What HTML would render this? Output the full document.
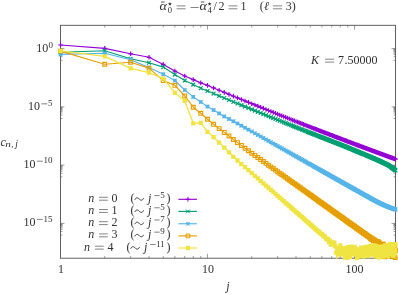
<!DOCTYPE html>
<html><head><meta charset="utf-8"><title>c_n,j</title>
<style>html,body{margin:0;padding:0;background:#fff;}svg{display:block;will-change:transform;}</style>
</head><body>
<svg width="398" height="295" viewBox="0 0 398 295">
<rect width="398" height="295" fill="#fff"/>
<defs><clipPath id="cp"><rect x="60.5" y="25.3" width="335.0" height="233.40"/></clipPath></defs>
<path d="M104.75 258.2v-2.2M104.75 25.3v2.2M130.64 258.2v-2.2M130.64 25.3v2.2M149.00 258.2v-2.2M149.00 25.3v2.2M163.25 258.2v-2.2M163.25 25.3v2.2M174.89 258.2v-2.2M174.89 25.3v2.2M184.73 258.2v-2.2M184.73 25.3v2.2M193.25 258.2v-2.2M193.25 25.3v2.2M200.77 258.2v-2.2M200.77 25.3v2.2M207.50 258.2v-4.4M207.50 25.3v4.4M251.75 258.2v-2.2M251.75 25.3v2.2M277.64 258.2v-2.2M277.64 25.3v2.2M296.00 258.2v-2.2M296.00 25.3v2.2M310.25 258.2v-2.2M310.25 25.3v2.2M321.89 258.2v-2.2M321.89 25.3v2.2M331.73 258.2v-2.2M331.73 25.3v2.2M340.25 258.2v-2.2M340.25 25.3v2.2M347.77 258.2v-2.2M347.77 25.3v2.2M354.50 258.2v-4.4M354.50 25.3v4.4M60.5 48.60h4M395.5 48.60h-4M60.5 60.25h2M395.5 60.25h-2M60.5 56.75h2M395.5 56.75h-2M60.5 54.69h2M395.5 54.69h-2M60.5 53.24h2M395.5 53.24h-2M60.5 52.11h2M395.5 52.11h-2M60.5 51.19h2M395.5 51.19h-2M60.5 50.41h2M395.5 50.41h-2M60.5 49.73h2M395.5 49.73h-2M60.5 49.13h2M395.5 49.13h-2M60.5 106.87h4M395.5 106.87h-4M60.5 118.52h2M395.5 118.52h-2M60.5 115.02h2M395.5 115.02h-2M60.5 112.96h2M395.5 112.96h-2M60.5 111.51h2M395.5 111.51h-2M60.5 110.38h2M395.5 110.38h-2M60.5 109.46h2M395.5 109.46h-2M60.5 108.68h2M395.5 108.68h-2M60.5 108.00h2M395.5 108.00h-2M60.5 107.40h2M395.5 107.40h-2M60.5 165.14h4M395.5 165.14h-4M60.5 176.79h2M395.5 176.79h-2M60.5 173.29h2M395.5 173.29h-2M60.5 171.23h2M395.5 171.23h-2M60.5 169.78h2M395.5 169.78h-2M60.5 168.65h2M395.5 168.65h-2M60.5 167.73h2M395.5 167.73h-2M60.5 166.95h2M395.5 166.95h-2M60.5 166.27h2M395.5 166.27h-2M60.5 165.67h2M395.5 165.67h-2M60.5 223.41h4M395.5 223.41h-4M60.5 235.06h2M395.5 235.06h-2M60.5 231.56h2M395.5 231.56h-2M60.5 229.50h2M395.5 229.50h-2M60.5 228.05h2M395.5 228.05h-2M60.5 226.92h2M395.5 226.92h-2M60.5 226.00h2M395.5 226.00h-2M60.5 225.22h2M395.5 225.22h-2M60.5 224.54h2M395.5 224.54h-2M60.5 223.94h2M395.5 223.94h-2" stroke="#505050" stroke-width="0.55" fill="none"/>
<rect x="60.5" y="25.3" width="335.0" height="232.90" fill="none" stroke="#505050" stroke-width="0.9"/>
<path d="M60.50 45.00L104.75 48.40L130.64 53.80L149.00 57.30L163.25 64.40L174.89 71.10L184.73 76.00L193.25 79.60L200.77 82.90L207.50 85.40L213.58 87.95L219.14 90.27L224.25 92.39L228.98 94.35L233.39 96.17L237.51 97.87L241.38 99.46L245.03 100.95L248.48 102.36L251.75 103.70L254.87 104.97L257.84 106.17L260.67 107.32L263.39 108.42L266.00 109.47L268.50 110.48L270.91 111.44L273.23 112.38L275.47 113.27L277.64 114.14L279.73 114.97L281.76 115.78L283.72 116.56L285.63 117.32L287.48 118.06L289.28 118.77L291.03 119.46L292.73 120.13L294.39 120.79L296.00 121.43L297.58 122.05L299.12 122.65L300.62 123.24L302.09 123.82L303.52 124.38L304.93 124.93L306.30 125.47L307.64 125.99L308.96 126.51L310.25 127.01L311.51 127.50L312.75 127.99L313.97 128.46L315.16 128.92L316.33 129.38L317.48 129.82L318.61 130.26L319.72 130.69L320.82 131.11L321.89 131.53L322.94 131.94L323.98 132.34L325.00 132.73L326.01 133.12L327.00 133.50L327.97 133.88L328.93 134.24L329.88 134.61L330.81 134.97L331.73 135.32L332.63 135.67L333.53 136.01L334.41 136.35L335.28 136.68L336.13 137.01L336.98 137.33L337.81 137.65L338.64 137.96L339.45 138.27L340.25 138.58L341.05 138.88L341.83 139.18L342.60 139.47L343.37 139.76L344.12 140.05L344.87 140.34L345.61 140.62L346.34 140.89L347.06 141.17L347.77 141.44L348.48 141.70L349.18 141.97L349.87 142.23L350.55 142.49L351.23 142.74L351.89 143.00L352.56 143.25L353.21 143.49L353.86 143.74L354.50 143.98L355.14 144.22L355.76 144.46L356.39 144.69L357.00 144.92L357.61 145.15L358.22 145.38L358.82 145.60L359.41 145.83L360.00 146.05L360.58 146.27L361.16 146.48L361.74 146.70L362.30 146.91L362.87 147.12L363.42 147.33L363.98 147.54L364.52 147.74L365.07 147.95L365.61 148.15L366.14 148.35L366.67 148.55L367.19 148.74L367.72 148.94L368.23 149.13L368.75 149.32L369.25 149.51L369.76 149.70L370.26 149.88L370.76 150.07L371.25 150.25L371.74 150.43L372.22 150.62L372.71 150.79L373.18 150.97L373.66 151.15L374.13 151.32L374.60 151.50L375.06 151.67L375.52 151.84L375.98 152.01L376.44 152.18L376.89 152.35L377.33 152.51L377.78 152.68L378.22 152.84L378.66 153.00L379.10 153.16L379.53 153.32L379.96 153.48L380.39 153.64L380.81 153.80L381.23 153.95L381.65 154.11L382.07 154.26L382.48 154.41L382.89 154.56L383.30 154.71L383.70 154.86L384.11 155.01L384.51 155.16L384.90 155.31L385.30 155.45L385.69 155.60L386.08 155.74L386.47 155.88L386.86 156.02L387.24 156.16L387.62 156.30L388.00 156.44L388.38 156.58L388.75 156.72L389.12 156.86L389.49 156.99L389.86 157.13L390.23 157.26L390.59 157.39L390.95 157.53L391.31 157.66L391.67 157.79L392.03 157.92L392.38 158.05L392.73 158.18L393.08 158.31L393.43 158.43L393.77 158.56L394.12 158.69L394.46 158.81L394.80 158.93L395.14 159.06L395.48 159.18" stroke="#9400D3" stroke-width="1.15" fill="none" stroke-linejoin="round" clip-path="url(#cp)"/>
<path d="M58.20 45.00h4.60M60.50 42.70v4.60M102.45 48.40h4.60M104.75 46.10v4.60M128.34 53.80h4.60M130.64 51.50v4.60M146.70 57.30h4.60M149.00 55.00v4.60M160.95 64.40h4.60M163.25 62.10v4.60M172.59 71.10h4.60M174.89 68.80v4.60M182.43 76.00h4.60M184.73 73.70v4.60M190.95 79.60h4.60M193.25 77.30v4.60M198.47 82.90h4.60M200.77 80.60v4.60M205.20 85.40h4.60M207.50 83.10v4.60M211.28 87.95h4.60M213.58 85.65v4.60M216.84 90.27h4.60M219.14 87.97v4.60M221.95 92.39h4.60M224.25 90.09v4.60M226.68 94.35h4.60M228.98 92.05v4.60M231.09 96.17h4.60M233.39 93.87v4.60M235.21 97.87h4.60M237.51 95.57v4.60M239.08 99.46h4.60M241.38 97.16v4.60M242.73 100.95h4.60M245.03 98.65v4.60M246.18 102.36h4.60M248.48 100.06v4.60M249.45 103.70h4.60M251.75 101.40v4.60M252.57 104.97h4.60M254.87 102.67v4.60M255.54 106.17h4.60M257.84 103.87v4.60M258.37 107.32h4.60M260.67 105.02v4.60M261.09 108.42h4.60M263.39 106.12v4.60M263.70 109.47h4.60M266.00 107.17v4.60M266.20 110.48h4.60M268.50 108.18v4.60M268.61 111.44h4.60M270.91 109.14v4.60M270.93 112.38h4.60M273.23 110.08v4.60M273.17 113.27h4.60M275.47 110.97v4.60M275.34 114.14h4.60M277.64 111.84v4.60M277.43 114.97h4.60M279.73 112.67v4.60M279.46 115.78h4.60M281.76 113.48v4.60M281.42 116.56h4.60M283.72 114.26v4.60M283.33 117.32h4.60M285.63 115.02v4.60M285.18 118.06h4.60M287.48 115.76v4.60M286.98 118.77h4.60M289.28 116.47v4.60M288.73 119.46h4.60M291.03 117.16v4.60M290.43 120.13h4.60M292.73 117.83v4.60M292.09 120.79h4.60M294.39 118.49v4.60M293.70 121.43h4.60M296.00 119.13v4.60M295.28 122.05h4.60M297.58 119.75v4.60M296.82 122.65h4.60M299.12 120.35v4.60M298.32 123.24h4.60M300.62 120.94v4.60M299.79 123.82h4.60M302.09 121.52v4.60M301.22 124.38h4.60M303.52 122.08v4.60M302.63 124.93h4.60M304.93 122.63v4.60M304.00 125.47h4.60M306.30 123.17v4.60M305.34 125.99h4.60M307.64 123.69v4.60M306.66 126.51h4.60M308.96 124.21v4.60M307.95 127.01h4.60M310.25 124.71v4.60M309.21 127.50h4.60M311.51 125.20v4.60M310.45 127.99h4.60M312.75 125.69v4.60M311.67 128.46h4.60M313.97 126.16v4.60M312.86 128.92h4.60M315.16 126.62v4.60M314.03 129.38h4.60M316.33 127.08v4.60M315.18 129.82h4.60M317.48 127.52v4.60M316.31 130.26h4.60M318.61 127.96v4.60M317.42 130.69h4.60M319.72 128.39v4.60M318.52 131.11h4.60M320.82 128.81v4.60M319.59 131.53h4.60M321.89 129.23v4.60M320.64 131.94h4.60M322.94 129.64v4.60M321.68 132.34h4.60M323.98 130.04v4.60M322.70 132.73h4.60M325.00 130.43v4.60M323.71 133.12h4.60M326.01 130.82v4.60M324.70 133.50h4.60M327.00 131.20v4.60M325.67 133.88h4.60M327.97 131.58v4.60M326.63 134.24h4.60M328.93 131.94v4.60M327.58 134.61h4.60M329.88 132.31v4.60M328.51 134.97h4.60M330.81 132.67v4.60M329.43 135.32h4.60M331.73 133.02v4.60M330.33 135.67h4.60M332.63 133.37v4.60M331.23 136.01h4.60M333.53 133.71v4.60M332.11 136.35h4.60M334.41 134.05v4.60M332.98 136.68h4.60M335.28 134.38v4.60M333.83 137.01h4.60M336.13 134.71v4.60M334.68 137.33h4.60M336.98 135.03v4.60M335.51 137.65h4.60M337.81 135.35v4.60M336.34 137.96h4.60M338.64 135.66v4.60M337.15 138.27h4.60M339.45 135.97v4.60M337.95 138.58h4.60M340.25 136.28v4.60M338.75 138.88h4.60M341.05 136.58v4.60M339.53 139.18h4.60M341.83 136.88v4.60M340.30 139.47h4.60M342.60 137.17v4.60M341.07 139.76h4.60M343.37 137.46v4.60M341.82 140.05h4.60M344.12 137.75v4.60M342.57 140.34h4.60M344.87 138.04v4.60M343.31 140.62h4.60M345.61 138.32v4.60M344.04 140.89h4.60M346.34 138.59v4.60M344.76 141.17h4.60M347.06 138.87v4.60M345.47 141.44h4.60M347.77 139.14v4.60M346.18 141.70h4.60M348.48 139.40v4.60M346.88 141.97h4.60M349.18 139.67v4.60M347.57 142.23h4.60M349.87 139.93v4.60M348.25 142.49h4.60M350.55 140.19v4.60M348.93 142.74h4.60M351.23 140.44v4.60M349.59 143.00h4.60M351.89 140.70v4.60M350.26 143.25h4.60M352.56 140.95v4.60M350.91 143.49h4.60M353.21 141.19v4.60M351.56 143.74h4.60M353.86 141.44v4.60M352.20 143.98h4.60M354.50 141.68v4.60M352.84 144.22h4.60M355.14 141.92v4.60M353.46 144.46h4.60M355.76 142.16v4.60M354.09 144.69h4.60M356.39 142.39v4.60M354.70 144.92h4.60M357.00 142.62v4.60M355.31 145.15h4.60M357.61 142.85v4.60M355.92 145.38h4.60M358.22 143.08v4.60M356.52 145.60h4.60M358.82 143.30v4.60M357.11 145.83h4.60M359.41 143.53v4.60M357.70 146.05h4.60M360.00 143.75v4.60M358.28 146.27h4.60M360.58 143.97v4.60M358.86 146.48h4.60M361.16 144.18v4.60M359.44 146.70h4.60M361.74 144.40v4.60M360.00 146.91h4.60M362.30 144.61v4.60M360.57 147.12h4.60M362.87 144.82v4.60M361.12 147.33h4.60M363.42 145.03v4.60M361.68 147.54h4.60M363.98 145.24v4.60M362.22 147.74h4.60M364.52 145.44v4.60M362.77 147.95h4.60M365.07 145.65v4.60M363.31 148.15h4.60M365.61 145.85v4.60M363.84 148.35h4.60M366.14 146.05v4.60M364.37 148.55h4.60M366.67 146.25v4.60M364.89 148.74h4.60M367.19 146.44v4.60M365.42 148.94h4.60M367.72 146.64v4.60M365.93 149.13h4.60M368.23 146.83v4.60M366.45 149.32h4.60M368.75 147.02v4.60M366.95 149.51h4.60M369.25 147.21v4.60M367.46 149.70h4.60M369.76 147.40v4.60M367.96 149.88h4.60M370.26 147.58v4.60M368.46 150.07h4.60M370.76 147.77v4.60M368.95 150.25h4.60M371.25 147.95v4.60M369.44 150.43h4.60M371.74 148.13v4.60M369.92 150.62h4.60M372.22 148.32v4.60M370.41 150.79h4.60M372.71 148.49v4.60M370.88 150.97h4.60M373.18 148.67v4.60M371.36 151.15h4.60M373.66 148.85v4.60M371.83 151.32h4.60M374.13 149.02v4.60M372.30 151.50h4.60M374.60 149.20v4.60M372.76 151.67h4.60M375.06 149.37v4.60M373.22 151.84h4.60M375.52 149.54v4.60M373.68 152.01h4.60M375.98 149.71v4.60M374.14 152.18h4.60M376.44 149.88v4.60M374.59 152.35h4.60M376.89 150.05v4.60M375.03 152.51h4.60M377.33 150.21v4.60M375.48 152.68h4.60M377.78 150.38v4.60M375.92 152.84h4.60M378.22 150.54v4.60M376.36 153.00h4.60M378.66 150.70v4.60M376.80 153.16h4.60M379.10 150.86v4.60M377.23 153.32h4.60M379.53 151.02v4.60M377.66 153.48h4.60M379.96 151.18v4.60M378.09 153.64h4.60M380.39 151.34v4.60M378.51 153.80h4.60M380.81 151.50v4.60M378.93 153.95h4.60M381.23 151.65v4.60M379.35 154.11h4.60M381.65 151.81v4.60M379.77 154.26h4.60M382.07 151.96v4.60M380.18 154.41h4.60M382.48 152.11v4.60M380.59 154.56h4.60M382.89 152.26v4.60M381.00 154.71h4.60M383.30 152.41v4.60M381.40 154.86h4.60M383.70 152.56v4.60M381.81 155.01h4.60M384.11 152.71v4.60M382.21 155.16h4.60M384.51 152.86v4.60M382.60 155.31h4.60M384.90 153.01v4.60M383.00 155.45h4.60M385.30 153.15v4.60M383.39 155.60h4.60M385.69 153.30v4.60M383.78 155.74h4.60M386.08 153.44v4.60M384.17 155.88h4.60M386.47 153.58v4.60M384.56 156.02h4.60M386.86 153.72v4.60M384.94 156.16h4.60M387.24 153.86v4.60M385.32 156.30h4.60M387.62 154.00v4.60M385.70 156.44h4.60M388.00 154.14v4.60M386.08 156.58h4.60M388.38 154.28v4.60M386.45 156.72h4.60M388.75 154.42v4.60M386.82 156.86h4.60M389.12 154.56v4.60M387.19 156.99h4.60M389.49 154.69v4.60M387.56 157.13h4.60M389.86 154.83v4.60M387.93 157.26h4.60M390.23 154.96v4.60M388.29 157.39h4.60M390.59 155.09v4.60M388.65 157.53h4.60M390.95 155.23v4.60M389.01 157.66h4.60M391.31 155.36v4.60M389.37 157.79h4.60M391.67 155.49v4.60M389.73 157.92h4.60M392.03 155.62v4.60M390.08 158.05h4.60M392.38 155.75v4.60M390.43 158.18h4.60M392.73 155.88v4.60M390.78 158.31h4.60M393.08 156.01v4.60M391.13 158.43h4.60M393.43 156.13v4.60M391.47 158.56h4.60M393.77 156.26v4.60M391.82 158.69h4.60M394.12 156.39v4.60M392.16 158.81h4.60M394.46 156.51v4.60M392.50 158.93h4.60M394.80 156.63v4.60M392.84 159.06h4.60M395.14 156.76v4.60M393.18 159.18h4.60M395.48 156.88v4.60" stroke="#9400D3" stroke-width="1.2" fill="none"/>
<path d="M60.50 52.30L104.75 50.80L130.64 58.70L149.00 62.80L163.25 67.10L174.89 74.60L184.73 80.50L193.25 84.60L200.77 88.20L207.50 91.00L213.58 93.56L219.14 95.89L224.25 98.03L228.98 100.00L233.39 101.83L237.51 103.54L241.38 105.13L245.03 106.64L248.48 108.05L251.75 109.39L254.87 110.67L257.84 111.88L260.67 113.03L263.39 114.14L266.00 115.19L268.50 116.21L270.91 117.18L273.23 118.12L275.47 119.02L277.64 119.89L279.73 120.73L281.76 121.54L283.72 122.33L285.63 123.09L287.48 123.83L289.28 124.54L291.03 125.24L292.73 125.92L294.39 126.58L296.00 127.22L297.58 127.84L299.12 128.45L300.62 129.04L302.09 129.63L303.52 130.20L304.93 130.75L306.30 131.30L307.64 131.83L308.96 132.35L310.25 132.86L311.51 133.35L312.75 133.84L313.97 134.32L315.16 134.79L316.33 135.25L317.48 135.70L318.61 136.14L319.72 136.58L320.82 137.01L321.89 137.43L322.94 137.84L323.98 138.24L325.00 138.64L326.01 139.03L327.00 139.42L327.97 139.80L328.93 140.17L329.88 140.54L330.81 140.90L331.73 141.26L332.63 141.61L333.53 141.96L334.41 142.30L335.28 142.63L336.13 142.97L336.98 143.29L337.81 143.62L338.64 143.93L339.45 144.25L340.25 144.56L341.05 144.86L341.83 145.17L342.60 145.46L343.37 145.76L344.12 146.05L344.87 146.33L345.61 146.64L346.34 146.94L347.06 147.25L347.77 147.54L348.48 147.84L349.18 148.13L349.87 148.42L350.55 148.70L351.23 148.98L351.89 149.26L352.56 149.54L353.21 149.81L353.86 150.08L354.50 150.34L355.14 150.61L355.76 150.87L356.39 151.13L357.00 151.38L357.61 151.64L358.22 151.89L358.82 152.14L359.41 152.39L360.00 152.63L360.58 152.88L361.16 153.12L361.74 153.35L362.30 153.59L362.87 153.83L363.42 154.06L363.98 154.29L364.52 154.51L365.07 154.74L365.61 154.96L366.14 155.19L366.67 155.41L367.19 155.62L367.72 155.84L368.23 156.06L368.75 156.27L369.25 156.48L369.76 156.69L370.26 156.90L370.76 157.12L371.25 157.33L371.74 157.54L372.22 157.75L372.71 157.96L373.18 158.17L373.66 158.38L374.13 158.58L374.60 158.78L375.06 158.99L375.52 159.19L375.98 159.38L376.44 159.58L376.89 159.78L377.33 159.97L377.78 160.16L378.22 160.36L378.66 160.57L379.10 160.78L379.53 160.98L379.96 161.19L380.39 161.39L380.81 161.59L381.23 161.79L381.65 161.99L382.07 162.19L382.48 162.38L382.89 162.58L383.30 162.77L383.70 162.96L384.11 163.15L384.51 163.34L384.90 163.53L385.30 163.72L385.69 163.90L386.08 164.09L386.47 164.27L386.86 164.45L387.24 164.63L387.62 164.81L388.00 164.99L388.38 165.17L388.75 165.41L389.12 165.69L389.49 165.97L389.86 166.24L390.23 166.52L390.59 166.79L390.95 167.06L391.31 167.33L391.67 167.59L392.03 167.86L392.38 168.12L392.73 168.39L393.08 168.65L393.43 168.91L393.77 169.17L394.12 169.42L394.46 169.68L394.80 169.93L395.14 170.18L395.48 170.43" stroke="#009E73" stroke-width="1.15" fill="none" stroke-linejoin="round" clip-path="url(#cp)"/>
<path d="M58.60 50.40l3.80 3.80M58.60 54.20l3.80 -3.80M102.85 48.90l3.80 3.80M102.85 52.70l3.80 -3.80M128.74 56.80l3.80 3.80M128.74 60.60l3.80 -3.80M147.10 60.90l3.80 3.80M147.10 64.70l3.80 -3.80M161.35 65.20l3.80 3.80M161.35 69.00l3.80 -3.80M172.99 72.70l3.80 3.80M172.99 76.50l3.80 -3.80M182.83 78.60l3.80 3.80M182.83 82.40l3.80 -3.80M191.35 82.70l3.80 3.80M191.35 86.50l3.80 -3.80M198.87 86.30l3.80 3.80M198.87 90.10l3.80 -3.80M205.60 89.10l3.80 3.80M205.60 92.90l3.80 -3.80M211.68 91.66l3.80 3.80M211.68 95.46l3.80 -3.80M217.24 93.99l3.80 3.80M217.24 97.79l3.80 -3.80M222.35 96.13l3.80 3.80M222.35 99.93l3.80 -3.80M227.08 98.10l3.80 3.80M227.08 101.90l3.80 -3.80M231.49 99.93l3.80 3.80M231.49 103.73l3.80 -3.80M235.61 101.64l3.80 3.80M235.61 105.44l3.80 -3.80M239.48 103.23l3.80 3.80M239.48 107.03l3.80 -3.80M243.13 104.74l3.80 3.80M243.13 108.54l3.80 -3.80M246.58 106.15l3.80 3.80M246.58 109.95l3.80 -3.80M249.85 107.49l3.80 3.80M249.85 111.29l3.80 -3.80M252.97 108.77l3.80 3.80M252.97 112.57l3.80 -3.80M255.94 109.98l3.80 3.80M255.94 113.78l3.80 -3.80M258.77 111.13l3.80 3.80M258.77 114.93l3.80 -3.80M261.49 112.24l3.80 3.80M261.49 116.04l3.80 -3.80M264.10 113.29l3.80 3.80M264.10 117.09l3.80 -3.80M266.60 114.31l3.80 3.80M266.60 118.11l3.80 -3.80M269.01 115.28l3.80 3.80M269.01 119.08l3.80 -3.80M271.33 116.22l3.80 3.80M271.33 120.02l3.80 -3.80M273.57 117.12l3.80 3.80M273.57 120.92l3.80 -3.80M275.74 117.99l3.80 3.80M275.74 121.79l3.80 -3.80M277.83 118.83l3.80 3.80M277.83 122.63l3.80 -3.80M279.86 119.64l3.80 3.80M279.86 123.44l3.80 -3.80M281.82 120.43l3.80 3.80M281.82 124.23l3.80 -3.80M283.73 121.19l3.80 3.80M283.73 124.99l3.80 -3.80M285.58 121.93l3.80 3.80M285.58 125.73l3.80 -3.80M287.38 122.64l3.80 3.80M287.38 126.44l3.80 -3.80M289.13 123.34l3.80 3.80M289.13 127.14l3.80 -3.80M290.83 124.02l3.80 3.80M290.83 127.82l3.80 -3.80M292.49 124.68l3.80 3.80M292.49 128.48l3.80 -3.80M294.10 125.32l3.80 3.80M294.10 129.12l3.80 -3.80M295.68 125.94l3.80 3.80M295.68 129.74l3.80 -3.80M297.22 126.55l3.80 3.80M297.22 130.35l3.80 -3.80M298.72 127.14l3.80 3.80M298.72 130.94l3.80 -3.80M300.19 127.73l3.80 3.80M300.19 131.53l3.80 -3.80M301.62 128.30l3.80 3.80M301.62 132.10l3.80 -3.80M303.03 128.85l3.80 3.80M303.03 132.65l3.80 -3.80M304.40 129.40l3.80 3.80M304.40 133.20l3.80 -3.80M305.74 129.93l3.80 3.80M305.74 133.73l3.80 -3.80M307.06 130.45l3.80 3.80M307.06 134.25l3.80 -3.80M308.35 130.96l3.80 3.80M308.35 134.76l3.80 -3.80M309.61 131.45l3.80 3.80M309.61 135.25l3.80 -3.80M310.85 131.94l3.80 3.80M310.85 135.74l3.80 -3.80M312.07 132.42l3.80 3.80M312.07 136.22l3.80 -3.80M313.26 132.89l3.80 3.80M313.26 136.69l3.80 -3.80M314.43 133.35l3.80 3.80M314.43 137.15l3.80 -3.80M315.58 133.80l3.80 3.80M315.58 137.60l3.80 -3.80M316.71 134.24l3.80 3.80M316.71 138.04l3.80 -3.80M317.82 134.68l3.80 3.80M317.82 138.48l3.80 -3.80M318.92 135.11l3.80 3.80M318.92 138.91l3.80 -3.80M319.99 135.53l3.80 3.80M319.99 139.33l3.80 -3.80M321.04 135.94l3.80 3.80M321.04 139.74l3.80 -3.80M322.08 136.34l3.80 3.80M322.08 140.14l3.80 -3.80M323.10 136.74l3.80 3.80M323.10 140.54l3.80 -3.80M324.11 137.13l3.80 3.80M324.11 140.93l3.80 -3.80M325.10 137.52l3.80 3.80M325.10 141.32l3.80 -3.80M326.07 137.90l3.80 3.80M326.07 141.70l3.80 -3.80M327.03 138.27l3.80 3.80M327.03 142.07l3.80 -3.80M327.98 138.64l3.80 3.80M327.98 142.44l3.80 -3.80M328.91 139.00l3.80 3.80M328.91 142.80l3.80 -3.80M329.83 139.36l3.80 3.80M329.83 143.16l3.80 -3.80M330.73 139.71l3.80 3.80M330.73 143.51l3.80 -3.80M331.63 140.06l3.80 3.80M331.63 143.86l3.80 -3.80M332.51 140.40l3.80 3.80M332.51 144.20l3.80 -3.80M333.38 140.73l3.80 3.80M333.38 144.53l3.80 -3.80M334.23 141.07l3.80 3.80M334.23 144.87l3.80 -3.80M335.08 141.39l3.80 3.80M335.08 145.19l3.80 -3.80M335.91 141.72l3.80 3.80M335.91 145.52l3.80 -3.80M336.74 142.03l3.80 3.80M336.74 145.83l3.80 -3.80M337.55 142.35l3.80 3.80M337.55 146.15l3.80 -3.80M338.35 142.66l3.80 3.80M338.35 146.46l3.80 -3.80M339.15 142.96l3.80 3.80M339.15 146.76l3.80 -3.80M339.93 143.27l3.80 3.80M339.93 147.07l3.80 -3.80M340.70 143.56l3.80 3.80M340.70 147.36l3.80 -3.80M341.47 143.86l3.80 3.80M341.47 147.66l3.80 -3.80M342.22 144.15l3.80 3.80M342.22 147.95l3.80 -3.80M342.97 144.43l3.80 3.80M342.97 148.23l3.80 -3.80M343.71 144.74l3.80 3.80M343.71 148.54l3.80 -3.80M344.44 145.04l3.80 3.80M344.44 148.84l3.80 -3.80M345.16 145.35l3.80 3.80M345.16 149.15l3.80 -3.80M345.87 145.64l3.80 3.80M345.87 149.44l3.80 -3.80M346.58 145.94l3.80 3.80M346.58 149.74l3.80 -3.80M347.28 146.23l3.80 3.80M347.28 150.03l3.80 -3.80M347.97 146.52l3.80 3.80M347.97 150.32l3.80 -3.80M348.65 146.80l3.80 3.80M348.65 150.60l3.80 -3.80M349.33 147.08l3.80 3.80M349.33 150.88l3.80 -3.80M349.99 147.36l3.80 3.80M349.99 151.16l3.80 -3.80M350.66 147.64l3.80 3.80M350.66 151.44l3.80 -3.80M351.31 147.91l3.80 3.80M351.31 151.71l3.80 -3.80M351.96 148.18l3.80 3.80M351.96 151.98l3.80 -3.80M352.60 148.44l3.80 3.80M352.60 152.24l3.80 -3.80M353.24 148.71l3.80 3.80M353.24 152.51l3.80 -3.80M353.86 148.97l3.80 3.80M353.86 152.77l3.80 -3.80M354.49 149.23l3.80 3.80M354.49 153.03l3.80 -3.80M355.10 149.48l3.80 3.80M355.10 153.28l3.80 -3.80M355.71 149.74l3.80 3.80M355.71 153.54l3.80 -3.80M356.32 149.99l3.80 3.80M356.32 153.79l3.80 -3.80M356.92 150.24l3.80 3.80M356.92 154.04l3.80 -3.80M357.51 150.49l3.80 3.80M357.51 154.29l3.80 -3.80M358.10 150.73l3.80 3.80M358.10 154.53l3.80 -3.80M358.68 150.98l3.80 3.80M358.68 154.78l3.80 -3.80M359.26 151.22l3.80 3.80M359.26 155.02l3.80 -3.80M359.84 151.45l3.80 3.80M359.84 155.25l3.80 -3.80M360.40 151.69l3.80 3.80M360.40 155.49l3.80 -3.80M360.97 151.93l3.80 3.80M360.97 155.73l3.80 -3.80M361.52 152.16l3.80 3.80M361.52 155.96l3.80 -3.80M362.08 152.39l3.80 3.80M362.08 156.19l3.80 -3.80M362.62 152.61l3.80 3.80M362.62 156.41l3.80 -3.80M363.17 152.84l3.80 3.80M363.17 156.64l3.80 -3.80M363.71 153.06l3.80 3.80M363.71 156.86l3.80 -3.80M364.24 153.29l3.80 3.80M364.24 157.09l3.80 -3.80M364.77 153.51l3.80 3.80M364.77 157.31l3.80 -3.80M365.29 153.72l3.80 3.80M365.29 157.52l3.80 -3.80M365.82 153.94l3.80 3.80M365.82 157.74l3.80 -3.80M366.33 154.16l3.80 3.80M366.33 157.96l3.80 -3.80M366.85 154.37l3.80 3.80M366.85 158.17l3.80 -3.80M367.35 154.58l3.80 3.80M367.35 158.38l3.80 -3.80M367.86 154.79l3.80 3.80M367.86 158.59l3.80 -3.80M368.36 155.00l3.80 3.80M368.36 158.80l3.80 -3.80M368.86 155.22l3.80 3.80M368.86 159.02l3.80 -3.80M369.35 155.43l3.80 3.80M369.35 159.23l3.80 -3.80M369.84 155.64l3.80 3.80M369.84 159.44l3.80 -3.80M370.32 155.85l3.80 3.80M370.32 159.65l3.80 -3.80M370.81 156.06l3.80 3.80M370.81 159.86l3.80 -3.80M371.28 156.27l3.80 3.80M371.28 160.07l3.80 -3.80M371.76 156.48l3.80 3.80M371.76 160.28l3.80 -3.80M372.23 156.68l3.80 3.80M372.23 160.48l3.80 -3.80M372.70 156.88l3.80 3.80M372.70 160.68l3.80 -3.80M373.16 157.09l3.80 3.80M373.16 160.89l3.80 -3.80M373.62 157.29l3.80 3.80M373.62 161.09l3.80 -3.80M374.08 157.48l3.80 3.80M374.08 161.28l3.80 -3.80M374.54 157.68l3.80 3.80M374.54 161.48l3.80 -3.80M374.99 157.88l3.80 3.80M374.99 161.68l3.80 -3.80M375.43 158.07l3.80 3.80M375.43 161.87l3.80 -3.80M375.88 158.26l3.80 3.80M375.88 162.06l3.80 -3.80M376.32 158.46l3.80 3.80M376.32 162.26l3.80 -3.80M376.76 158.67l3.80 3.80M376.76 162.47l3.80 -3.80M377.20 158.88l3.80 3.80M377.20 162.68l3.80 -3.80M377.63 159.08l3.80 3.80M377.63 162.88l3.80 -3.80M378.06 159.29l3.80 3.80M378.06 163.09l3.80 -3.80M378.49 159.49l3.80 3.80M378.49 163.29l3.80 -3.80M378.91 159.69l3.80 3.80M378.91 163.49l3.80 -3.80M379.33 159.89l3.80 3.80M379.33 163.69l3.80 -3.80M379.75 160.09l3.80 3.80M379.75 163.89l3.80 -3.80M380.17 160.29l3.80 3.80M380.17 164.09l3.80 -3.80M380.58 160.48l3.80 3.80M380.58 164.28l3.80 -3.80M380.99 160.68l3.80 3.80M380.99 164.48l3.80 -3.80M381.40 160.87l3.80 3.80M381.40 164.67l3.80 -3.80M381.80 161.06l3.80 3.80M381.80 164.86l3.80 -3.80M382.21 161.25l3.80 3.80M382.21 165.05l3.80 -3.80M382.61 161.44l3.80 3.80M382.61 165.24l3.80 -3.80M383.00 161.63l3.80 3.80M383.00 165.43l3.80 -3.80M383.40 161.82l3.80 3.80M383.40 165.62l3.80 -3.80M383.79 162.00l3.80 3.80M383.79 165.80l3.80 -3.80M384.18 162.19l3.80 3.80M384.18 165.99l3.80 -3.80M384.57 162.37l3.80 3.80M384.57 166.17l3.80 -3.80M384.96 162.55l3.80 3.80M384.96 166.35l3.80 -3.80M385.34 162.73l3.80 3.80M385.34 166.53l3.80 -3.80M385.72 162.91l3.80 3.80M385.72 166.71l3.80 -3.80M386.10 163.09l3.80 3.80M386.10 166.89l3.80 -3.80M386.48 163.27l3.80 3.80M386.48 167.07l3.80 -3.80M386.85 163.51l3.80 3.80M386.85 167.31l3.80 -3.80M387.22 163.79l3.80 3.80M387.22 167.59l3.80 -3.80M387.59 164.07l3.80 3.80M387.59 167.87l3.80 -3.80M387.96 164.34l3.80 3.80M387.96 168.14l3.80 -3.80M388.33 164.62l3.80 3.80M388.33 168.42l3.80 -3.80M388.69 164.89l3.80 3.80M388.69 168.69l3.80 -3.80M389.05 165.16l3.80 3.80M389.05 168.96l3.80 -3.80M389.41 165.43l3.80 3.80M389.41 169.23l3.80 -3.80M389.77 165.69l3.80 3.80M389.77 169.49l3.80 -3.80M390.13 165.96l3.80 3.80M390.13 169.76l3.80 -3.80M390.48 166.22l3.80 3.80M390.48 170.02l3.80 -3.80M390.83 166.49l3.80 3.80M390.83 170.29l3.80 -3.80M391.18 166.75l3.80 3.80M391.18 170.55l3.80 -3.80M391.53 167.01l3.80 3.80M391.53 170.81l3.80 -3.80M391.87 167.27l3.80 3.80M391.87 171.07l3.80 -3.80M392.22 167.52l3.80 3.80M392.22 171.32l3.80 -3.80M392.56 167.78l3.80 3.80M392.56 171.58l3.80 -3.80M392.90 168.03l3.80 3.80M392.90 171.83l3.80 -3.80M393.24 168.28l3.80 3.80M393.24 172.08l3.80 -3.80M393.58 168.53l3.80 3.80M393.58 172.33l3.80 -3.80" stroke="#009E73" stroke-width="1.2" fill="none"/>
<path d="M60.50 54.40L104.75 53.30L130.64 59.70L149.00 67.50L163.25 74.20L174.89 80.50L184.73 90.00L193.25 96.90L200.77 102.00L207.50 106.60L213.58 110.10L219.14 113.40L224.25 116.40L228.98 118.90L233.39 121.30L237.51 123.50L241.38 125.68L245.03 127.73L248.48 129.67L251.75 131.51L254.87 133.26L257.84 134.93L260.67 136.52L263.39 138.05L266.00 139.52L268.50 140.92L270.91 142.28L273.23 143.58L275.47 144.84L277.64 146.06L279.73 147.23L281.76 148.37L283.72 149.48L285.63 150.55L287.48 151.59L289.28 152.60L291.03 153.58L292.73 154.54L294.39 155.47L296.00 156.38L297.58 157.26L299.12 158.13L300.62 158.97L302.09 159.80L303.52 160.60L304.93 161.39L306.30 162.16L307.64 162.92L308.96 163.66L310.25 164.38L311.51 165.10L312.75 165.79L313.97 166.48L315.16 167.15L316.33 167.80L317.48 168.45L318.61 169.09L319.72 169.71L320.82 170.32L321.89 170.93L322.94 171.52L323.98 172.10L325.00 172.68L326.01 173.24L327.00 173.80L327.97 174.35L328.93 174.89L329.88 175.42L330.81 175.94L331.73 176.46L332.63 176.97L333.53 177.47L334.41 177.96L335.28 178.45L336.13 178.93L336.98 179.41L337.81 179.88L338.64 180.34L339.45 180.80L340.25 181.25L341.05 181.69L341.83 182.13L342.60 182.57L343.37 183.00L344.12 183.42L344.87 183.84L345.61 184.26L346.34 184.67L347.06 185.07L347.77 185.47L348.48 185.87L349.18 186.26L349.87 186.65L350.55 187.03L351.23 187.41L351.89 187.79L352.56 188.16L353.21 188.53L353.86 188.89L354.50 189.25L355.14 189.61L355.76 189.96L356.39 190.31L357.00 190.66L357.61 191.00L358.22 191.34L358.82 191.68L359.41 192.02L360.00 192.35L360.58 192.67L361.16 193.00L361.74 193.32L362.30 193.64L362.87 193.96L363.42 194.27L363.98 194.58L364.52 194.89L365.07 195.19L365.61 195.50L366.14 195.80L366.67 196.09L367.19 196.39L367.72 196.68L368.23 196.97L368.75 197.26L369.25 197.55L369.76 197.83L370.26 198.11L370.76 198.39L371.25 198.67L371.74 198.94L372.22 199.21L372.71 199.48L373.18 199.75L373.66 200.00L374.13 200.26L374.60 200.51L375.06 200.76L375.52 201.00L375.98 201.24L376.44 201.48L376.89 201.71L377.33 201.94L377.78 202.16L378.22 202.38L378.66 202.60L379.10 202.82L379.53 203.03L379.96 203.24L380.39 203.44L380.81 203.64L381.23 203.84L381.65 204.04L382.07 204.23L382.48 204.42L382.89 204.61L383.30 204.79L383.70 204.97L384.11 205.15L384.51 205.33L384.90 205.50L385.30 205.67L385.69 205.84L386.08 206.00L386.47 206.17L386.86 206.33L387.24 206.49L387.62 206.64L388.00 206.79L388.38 206.95L388.75 207.09L389.12 207.24L389.49 207.39L389.86 207.53L390.23 207.67L390.59 207.81L390.95 207.94L391.31 208.08L391.67 208.21L392.03 208.34L392.38 208.47L392.73 208.59L393.08 208.72L393.43 208.84L393.77 208.96L394.12 209.08L394.46 209.20L394.80 209.31L395.14 209.42L395.48 209.54" stroke="#56B4E9" stroke-width="1.15" fill="none" stroke-linejoin="round" clip-path="url(#cp)"/>
<path d="M58.65 54.40h3.70M60.50 52.55v3.70M58.65 52.55l3.70 3.70M58.65 56.25l3.70 -3.70M102.90 53.30h3.70M104.75 51.45v3.70M102.90 51.45l3.70 3.70M102.90 55.15l3.70 -3.70M128.79 59.70h3.70M130.64 57.85v3.70M128.79 57.85l3.70 3.70M128.79 61.55l3.70 -3.70M147.15 67.50h3.70M149.00 65.65v3.70M147.15 65.65l3.70 3.70M147.15 69.35l3.70 -3.70M161.40 74.20h3.70M163.25 72.35v3.70M161.40 72.35l3.70 3.70M161.40 76.05l3.70 -3.70M173.04 80.50h3.70M174.89 78.65v3.70M173.04 78.65l3.70 3.70M173.04 82.35l3.70 -3.70M182.88 90.00h3.70M184.73 88.15v3.70M182.88 88.15l3.70 3.70M182.88 91.85l3.70 -3.70M191.40 96.90h3.70M193.25 95.05v3.70M191.40 95.05l3.70 3.70M191.40 98.75l3.70 -3.70M198.92 102.00h3.70M200.77 100.15v3.70M198.92 100.15l3.70 3.70M198.92 103.85l3.70 -3.70M205.65 106.60h3.70M207.50 104.75v3.70M205.65 104.75l3.70 3.70M205.65 108.45l3.70 -3.70M211.73 110.10h3.70M213.58 108.25v3.70M211.73 108.25l3.70 3.70M211.73 111.95l3.70 -3.70M217.29 113.40h3.70M219.14 111.55v3.70M217.29 111.55l3.70 3.70M217.29 115.25l3.70 -3.70M222.40 116.40h3.70M224.25 114.55v3.70M222.40 114.55l3.70 3.70M222.40 118.25l3.70 -3.70M227.13 118.90h3.70M228.98 117.05v3.70M227.13 117.05l3.70 3.70M227.13 120.75l3.70 -3.70M231.54 121.30h3.70M233.39 119.45v3.70M231.54 119.45l3.70 3.70M231.54 123.15l3.70 -3.70M235.66 123.50h3.70M237.51 121.65v3.70M235.66 121.65l3.70 3.70M235.66 125.35l3.70 -3.70M239.53 125.68h3.70M241.38 123.83v3.70M239.53 123.83l3.70 3.70M239.53 127.53l3.70 -3.70M243.18 127.73h3.70M245.03 125.88v3.70M243.18 125.88l3.70 3.70M243.18 129.58l3.70 -3.70M246.63 129.67h3.70M248.48 127.82v3.70M246.63 127.82l3.70 3.70M246.63 131.52l3.70 -3.70M249.90 131.51h3.70M251.75 129.66v3.70M249.90 129.66l3.70 3.70M249.90 133.36l3.70 -3.70M253.02 133.26h3.70M254.87 131.41v3.70M253.02 131.41l3.70 3.70M253.02 135.11l3.70 -3.70M255.99 134.93h3.70M257.84 133.08v3.70M255.99 133.08l3.70 3.70M255.99 136.78l3.70 -3.70M258.82 136.52h3.70M260.67 134.67v3.70M258.82 134.67l3.70 3.70M258.82 138.37l3.70 -3.70M261.54 138.05h3.70M263.39 136.20v3.70M261.54 136.20l3.70 3.70M261.54 139.90l3.70 -3.70M264.15 139.52h3.70M266.00 137.67v3.70M264.15 137.67l3.70 3.70M264.15 141.37l3.70 -3.70M266.65 140.92h3.70M268.50 139.07v3.70M266.65 139.07l3.70 3.70M266.65 142.77l3.70 -3.70M269.06 142.28h3.70M270.91 140.43v3.70M269.06 140.43l3.70 3.70M269.06 144.13l3.70 -3.70M271.38 143.58h3.70M273.23 141.73v3.70M271.38 141.73l3.70 3.70M271.38 145.43l3.70 -3.70M273.62 144.84h3.70M275.47 142.99v3.70M273.62 142.99l3.70 3.70M273.62 146.69l3.70 -3.70M275.79 146.06h3.70M277.64 144.21v3.70M275.79 144.21l3.70 3.70M275.79 147.91l3.70 -3.70M277.88 147.23h3.70M279.73 145.38v3.70M277.88 145.38l3.70 3.70M277.88 149.08l3.70 -3.70M279.91 148.37h3.70M281.76 146.52v3.70M279.91 146.52l3.70 3.70M279.91 150.22l3.70 -3.70M281.87 149.48h3.70M283.72 147.63v3.70M281.87 147.63l3.70 3.70M281.87 151.33l3.70 -3.70M283.78 150.55h3.70M285.63 148.70v3.70M283.78 148.70l3.70 3.70M283.78 152.40l3.70 -3.70M285.63 151.59h3.70M287.48 149.74v3.70M285.63 149.74l3.70 3.70M285.63 153.44l3.70 -3.70M287.43 152.60h3.70M289.28 150.75v3.70M287.43 150.75l3.70 3.70M287.43 154.45l3.70 -3.70M289.18 153.58h3.70M291.03 151.73v3.70M289.18 151.73l3.70 3.70M289.18 155.43l3.70 -3.70M290.88 154.54h3.70M292.73 152.69v3.70M290.88 152.69l3.70 3.70M290.88 156.39l3.70 -3.70M292.54 155.47h3.70M294.39 153.62v3.70M292.54 153.62l3.70 3.70M292.54 157.32l3.70 -3.70M294.15 156.38h3.70M296.00 154.53v3.70M294.15 154.53l3.70 3.70M294.15 158.23l3.70 -3.70M295.73 157.26h3.70M297.58 155.41v3.70M295.73 155.41l3.70 3.70M295.73 159.11l3.70 -3.70M297.27 158.13h3.70M299.12 156.28v3.70M297.27 156.28l3.70 3.70M297.27 159.98l3.70 -3.70M298.77 158.97h3.70M300.62 157.12v3.70M298.77 157.12l3.70 3.70M298.77 160.82l3.70 -3.70M300.24 159.80h3.70M302.09 157.95v3.70M300.24 157.95l3.70 3.70M300.24 161.65l3.70 -3.70M301.67 160.60h3.70M303.52 158.75v3.70M301.67 158.75l3.70 3.70M301.67 162.45l3.70 -3.70M303.08 161.39h3.70M304.93 159.54v3.70M303.08 159.54l3.70 3.70M303.08 163.24l3.70 -3.70M304.45 162.16h3.70M306.30 160.31v3.70M304.45 160.31l3.70 3.70M304.45 164.01l3.70 -3.70M305.79 162.92h3.70M307.64 161.07v3.70M305.79 161.07l3.70 3.70M305.79 164.77l3.70 -3.70M307.11 163.66h3.70M308.96 161.81v3.70M307.11 161.81l3.70 3.70M307.11 165.51l3.70 -3.70M308.40 164.38h3.70M310.25 162.53v3.70M308.40 162.53l3.70 3.70M308.40 166.23l3.70 -3.70M309.66 165.10h3.70M311.51 163.25v3.70M309.66 163.25l3.70 3.70M309.66 166.95l3.70 -3.70M310.90 165.79h3.70M312.75 163.94v3.70M310.90 163.94l3.70 3.70M310.90 167.64l3.70 -3.70M312.12 166.48h3.70M313.97 164.63v3.70M312.12 164.63l3.70 3.70M312.12 168.33l3.70 -3.70M313.31 167.15h3.70M315.16 165.30v3.70M313.31 165.30l3.70 3.70M313.31 169.00l3.70 -3.70M314.48 167.80h3.70M316.33 165.95v3.70M314.48 165.95l3.70 3.70M314.48 169.65l3.70 -3.70M315.63 168.45h3.70M317.48 166.60v3.70M315.63 166.60l3.70 3.70M315.63 170.30l3.70 -3.70M316.76 169.09h3.70M318.61 167.24v3.70M316.76 167.24l3.70 3.70M316.76 170.94l3.70 -3.70M317.87 169.71h3.70M319.72 167.86v3.70M317.87 167.86l3.70 3.70M317.87 171.56l3.70 -3.70M318.97 170.32h3.70M320.82 168.47v3.70M318.97 168.47l3.70 3.70M318.97 172.17l3.70 -3.70M320.04 170.93h3.70M321.89 169.08v3.70M320.04 169.08l3.70 3.70M320.04 172.78l3.70 -3.70M321.09 171.52h3.70M322.94 169.67v3.70M321.09 169.67l3.70 3.70M321.09 173.37l3.70 -3.70M322.13 172.10h3.70M323.98 170.25v3.70M322.13 170.25l3.70 3.70M322.13 173.95l3.70 -3.70M323.15 172.68h3.70M325.00 170.83v3.70M323.15 170.83l3.70 3.70M323.15 174.53l3.70 -3.70M324.16 173.24h3.70M326.01 171.39v3.70M324.16 171.39l3.70 3.70M324.16 175.09l3.70 -3.70M325.15 173.80h3.70M327.00 171.95v3.70M325.15 171.95l3.70 3.70M325.15 175.65l3.70 -3.70M326.12 174.35h3.70M327.97 172.50v3.70M326.12 172.50l3.70 3.70M326.12 176.20l3.70 -3.70M327.08 174.89h3.70M328.93 173.04v3.70M327.08 173.04l3.70 3.70M327.08 176.74l3.70 -3.70M328.03 175.42h3.70M329.88 173.57v3.70M328.03 173.57l3.70 3.70M328.03 177.27l3.70 -3.70M328.96 175.94h3.70M330.81 174.09v3.70M328.96 174.09l3.70 3.70M328.96 177.79l3.70 -3.70M329.88 176.46h3.70M331.73 174.61v3.70M329.88 174.61l3.70 3.70M329.88 178.31l3.70 -3.70M330.78 176.97h3.70M332.63 175.12v3.70M330.78 175.12l3.70 3.70M330.78 178.82l3.70 -3.70M331.68 177.47h3.70M333.53 175.62v3.70M331.68 175.62l3.70 3.70M331.68 179.32l3.70 -3.70M332.56 177.96h3.70M334.41 176.11v3.70M332.56 176.11l3.70 3.70M332.56 179.81l3.70 -3.70M333.43 178.45h3.70M335.28 176.60v3.70M333.43 176.60l3.70 3.70M333.43 180.30l3.70 -3.70M334.28 178.93h3.70M336.13 177.08v3.70M334.28 177.08l3.70 3.70M334.28 180.78l3.70 -3.70M335.13 179.41h3.70M336.98 177.56v3.70M335.13 177.56l3.70 3.70M335.13 181.26l3.70 -3.70M335.96 179.88h3.70M337.81 178.03v3.70M335.96 178.03l3.70 3.70M335.96 181.73l3.70 -3.70M336.79 180.34h3.70M338.64 178.49v3.70M336.79 178.49l3.70 3.70M336.79 182.19l3.70 -3.70M337.60 180.80h3.70M339.45 178.95v3.70M337.60 178.95l3.70 3.70M337.60 182.65l3.70 -3.70M338.40 181.25h3.70M340.25 179.40v3.70M338.40 179.40l3.70 3.70M338.40 183.10l3.70 -3.70M339.20 181.69h3.70M341.05 179.84v3.70M339.20 179.84l3.70 3.70M339.20 183.54l3.70 -3.70M339.98 182.13h3.70M341.83 180.28v3.70M339.98 180.28l3.70 3.70M339.98 183.98l3.70 -3.70M340.75 182.57h3.70M342.60 180.72v3.70M340.75 180.72l3.70 3.70M340.75 184.42l3.70 -3.70M341.52 183.00h3.70M343.37 181.15v3.70M341.52 181.15l3.70 3.70M341.52 184.85l3.70 -3.70M342.27 183.42h3.70M344.12 181.57v3.70M342.27 181.57l3.70 3.70M342.27 185.27l3.70 -3.70M343.02 183.84h3.70M344.87 181.99v3.70M343.02 181.99l3.70 3.70M343.02 185.69l3.70 -3.70M343.76 184.26h3.70M345.61 182.41v3.70M343.76 182.41l3.70 3.70M343.76 186.11l3.70 -3.70M344.49 184.67h3.70M346.34 182.82v3.70M344.49 182.82l3.70 3.70M344.49 186.52l3.70 -3.70M345.21 185.07h3.70M347.06 183.22v3.70M345.21 183.22l3.70 3.70M345.21 186.92l3.70 -3.70M345.92 185.47h3.70M347.77 183.62v3.70M345.92 183.62l3.70 3.70M345.92 187.32l3.70 -3.70M346.63 185.87h3.70M348.48 184.02v3.70M346.63 184.02l3.70 3.70M346.63 187.72l3.70 -3.70M347.33 186.26h3.70M349.18 184.41v3.70M347.33 184.41l3.70 3.70M347.33 188.11l3.70 -3.70M348.02 186.65h3.70M349.87 184.80v3.70M348.02 184.80l3.70 3.70M348.02 188.50l3.70 -3.70M348.70 187.03h3.70M350.55 185.18v3.70M348.70 185.18l3.70 3.70M348.70 188.88l3.70 -3.70M349.38 187.41h3.70M351.23 185.56v3.70M349.38 185.56l3.70 3.70M349.38 189.26l3.70 -3.70M350.04 187.79h3.70M351.89 185.94v3.70M350.04 185.94l3.70 3.70M350.04 189.64l3.70 -3.70M350.71 188.16h3.70M352.56 186.31v3.70M350.71 186.31l3.70 3.70M350.71 190.01l3.70 -3.70M351.36 188.53h3.70M353.21 186.68v3.70M351.36 186.68l3.70 3.70M351.36 190.38l3.70 -3.70M352.01 188.89h3.70M353.86 187.04v3.70M352.01 187.04l3.70 3.70M352.01 190.74l3.70 -3.70M352.65 189.25h3.70M354.50 187.40v3.70M352.65 187.40l3.70 3.70M352.65 191.10l3.70 -3.70M353.29 189.61h3.70M355.14 187.76v3.70M353.29 187.76l3.70 3.70M353.29 191.46l3.70 -3.70M353.91 189.96h3.70M355.76 188.11v3.70M353.91 188.11l3.70 3.70M353.91 191.81l3.70 -3.70M354.54 190.31h3.70M356.39 188.46v3.70M354.54 188.46l3.70 3.70M354.54 192.16l3.70 -3.70M355.15 190.66h3.70M357.00 188.81v3.70M355.15 188.81l3.70 3.70M355.15 192.51l3.70 -3.70M355.76 191.00h3.70M357.61 189.15v3.70M355.76 189.15l3.70 3.70M355.76 192.85l3.70 -3.70M356.37 191.34h3.70M358.22 189.49v3.70M356.37 189.49l3.70 3.70M356.37 193.19l3.70 -3.70M356.97 191.68h3.70M358.82 189.83v3.70M356.97 189.83l3.70 3.70M356.97 193.53l3.70 -3.70M357.56 192.02h3.70M359.41 190.17v3.70M357.56 190.17l3.70 3.70M357.56 193.87l3.70 -3.70M358.15 192.35h3.70M360.00 190.50v3.70M358.15 190.50l3.70 3.70M358.15 194.20l3.70 -3.70M358.73 192.67h3.70M360.58 190.82v3.70M358.73 190.82l3.70 3.70M358.73 194.52l3.70 -3.70M359.31 193.00h3.70M361.16 191.15v3.70M359.31 191.15l3.70 3.70M359.31 194.85l3.70 -3.70M359.89 193.32h3.70M361.74 191.47v3.70M359.89 191.47l3.70 3.70M359.89 195.17l3.70 -3.70M360.45 193.64h3.70M362.30 191.79v3.70M360.45 191.79l3.70 3.70M360.45 195.49l3.70 -3.70M361.02 193.96h3.70M362.87 192.11v3.70M361.02 192.11l3.70 3.70M361.02 195.81l3.70 -3.70M361.57 194.27h3.70M363.42 192.42v3.70M361.57 192.42l3.70 3.70M361.57 196.12l3.70 -3.70M362.13 194.58h3.70M363.98 192.73v3.70M362.13 192.73l3.70 3.70M362.13 196.43l3.70 -3.70M362.67 194.89h3.70M364.52 193.04v3.70M362.67 193.04l3.70 3.70M362.67 196.74l3.70 -3.70M363.22 195.19h3.70M365.07 193.34v3.70M363.22 193.34l3.70 3.70M363.22 197.04l3.70 -3.70M363.76 195.50h3.70M365.61 193.65v3.70M363.76 193.65l3.70 3.70M363.76 197.35l3.70 -3.70M364.29 195.80h3.70M366.14 193.95v3.70M364.29 193.95l3.70 3.70M364.29 197.65l3.70 -3.70M364.82 196.09h3.70M366.67 194.24v3.70M364.82 194.24l3.70 3.70M364.82 197.94l3.70 -3.70M365.34 196.39h3.70M367.19 194.54v3.70M365.34 194.54l3.70 3.70M365.34 198.24l3.70 -3.70M365.87 196.68h3.70M367.72 194.83v3.70M365.87 194.83l3.70 3.70M365.87 198.53l3.70 -3.70M366.38 196.97h3.70M368.23 195.12v3.70M366.38 195.12l3.70 3.70M366.38 198.82l3.70 -3.70M366.90 197.26h3.70M368.75 195.41v3.70M366.90 195.41l3.70 3.70M366.90 199.11l3.70 -3.70M367.40 197.55h3.70M369.25 195.70v3.70M367.40 195.70l3.70 3.70M367.40 199.40l3.70 -3.70M367.91 197.83h3.70M369.76 195.98v3.70M367.91 195.98l3.70 3.70M367.91 199.68l3.70 -3.70M368.41 198.11h3.70M370.26 196.26v3.70M368.41 196.26l3.70 3.70M368.41 199.96l3.70 -3.70M368.91 198.39h3.70M370.76 196.54v3.70M368.91 196.54l3.70 3.70M368.91 200.24l3.70 -3.70M369.40 198.67h3.70M371.25 196.82v3.70M369.40 196.82l3.70 3.70M369.40 200.52l3.70 -3.70M369.89 198.94h3.70M371.74 197.09v3.70M369.89 197.09l3.70 3.70M369.89 200.79l3.70 -3.70M370.37 199.21h3.70M372.22 197.36v3.70M370.37 197.36l3.70 3.70M370.37 201.06l3.70 -3.70M370.86 199.48h3.70M372.71 197.63v3.70M370.86 197.63l3.70 3.70M370.86 201.33l3.70 -3.70M371.33 199.75h3.70M373.18 197.90v3.70M371.33 197.90l3.70 3.70M371.33 201.60l3.70 -3.70M371.81 200.00h3.70M373.66 198.15v3.70M371.81 198.15l3.70 3.70M371.81 201.85l3.70 -3.70M372.28 200.26h3.70M374.13 198.41v3.70M372.28 198.41l3.70 3.70M372.28 202.11l3.70 -3.70M372.75 200.51h3.70M374.60 198.66v3.70M372.75 198.66l3.70 3.70M372.75 202.36l3.70 -3.70M373.21 200.76h3.70M375.06 198.91v3.70M373.21 198.91l3.70 3.70M373.21 202.61l3.70 -3.70M373.67 201.00h3.70M375.52 199.15v3.70M373.67 199.15l3.70 3.70M373.67 202.85l3.70 -3.70M374.13 201.24h3.70M375.98 199.39v3.70M374.13 199.39l3.70 3.70M374.13 203.09l3.70 -3.70M374.59 201.48h3.70M376.44 199.63v3.70M374.59 199.63l3.70 3.70M374.59 203.33l3.70 -3.70M375.04 201.71h3.70M376.89 199.86v3.70M375.04 199.86l3.70 3.70M375.04 203.56l3.70 -3.70M375.48 201.94h3.70M377.33 200.09v3.70M375.48 200.09l3.70 3.70M375.48 203.79l3.70 -3.70M375.93 202.16h3.70M377.78 200.31v3.70M375.93 200.31l3.70 3.70M375.93 204.01l3.70 -3.70M376.37 202.38h3.70M378.22 200.53v3.70M376.37 200.53l3.70 3.70M376.37 204.23l3.70 -3.70M376.81 202.60h3.70M378.66 200.75v3.70M376.81 200.75l3.70 3.70M376.81 204.45l3.70 -3.70M377.25 202.82h3.70M379.10 200.97v3.70M377.25 200.97l3.70 3.70M377.25 204.67l3.70 -3.70M377.68 203.03h3.70M379.53 201.18v3.70M377.68 201.18l3.70 3.70M377.68 204.88l3.70 -3.70M378.11 203.24h3.70M379.96 201.39v3.70M378.11 201.39l3.70 3.70M378.11 205.09l3.70 -3.70M378.54 203.44h3.70M380.39 201.59v3.70M378.54 201.59l3.70 3.70M378.54 205.29l3.70 -3.70M378.96 203.64h3.70M380.81 201.79v3.70M378.96 201.79l3.70 3.70M378.96 205.49l3.70 -3.70M379.38 203.84h3.70M381.23 201.99v3.70M379.38 201.99l3.70 3.70M379.38 205.69l3.70 -3.70M379.80 204.04h3.70M381.65 202.19v3.70M379.80 202.19l3.70 3.70M379.80 205.89l3.70 -3.70M380.22 204.23h3.70M382.07 202.38v3.70M380.22 202.38l3.70 3.70M380.22 206.08l3.70 -3.70M380.63 204.42h3.70M382.48 202.57v3.70M380.63 202.57l3.70 3.70M380.63 206.27l3.70 -3.70M381.04 204.61h3.70M382.89 202.76v3.70M381.04 202.76l3.70 3.70M381.04 206.46l3.70 -3.70M381.45 204.79h3.70M383.30 202.94v3.70M381.45 202.94l3.70 3.70M381.45 206.64l3.70 -3.70M381.85 204.97h3.70M383.70 203.12v3.70M381.85 203.12l3.70 3.70M381.85 206.82l3.70 -3.70M382.26 205.15h3.70M384.11 203.30v3.70M382.26 203.30l3.70 3.70M382.26 207.00l3.70 -3.70M382.66 205.33h3.70M384.51 203.48v3.70M382.66 203.48l3.70 3.70M382.66 207.18l3.70 -3.70M383.05 205.50h3.70M384.90 203.65v3.70M383.05 203.65l3.70 3.70M383.05 207.35l3.70 -3.70M383.45 205.67h3.70M385.30 203.82v3.70M383.45 203.82l3.70 3.70M383.45 207.52l3.70 -3.70M383.84 205.84h3.70M385.69 203.99v3.70M383.84 203.99l3.70 3.70M383.84 207.69l3.70 -3.70M384.23 206.00h3.70M386.08 204.15v3.70M384.23 204.15l3.70 3.70M384.23 207.85l3.70 -3.70M384.62 206.17h3.70M386.47 204.32v3.70M384.62 204.32l3.70 3.70M384.62 208.02l3.70 -3.70M385.01 206.33h3.70M386.86 204.48v3.70M385.01 204.48l3.70 3.70M385.01 208.18l3.70 -3.70M385.39 206.49h3.70M387.24 204.64v3.70M385.39 204.64l3.70 3.70M385.39 208.34l3.70 -3.70M385.77 206.64h3.70M387.62 204.79v3.70M385.77 204.79l3.70 3.70M385.77 208.49l3.70 -3.70M386.15 206.79h3.70M388.00 204.94v3.70M386.15 204.94l3.70 3.70M386.15 208.64l3.70 -3.70M386.53 206.95h3.70M388.38 205.10v3.70M386.53 205.10l3.70 3.70M386.53 208.80l3.70 -3.70M386.90 207.09h3.70M388.75 205.24v3.70M386.90 205.24l3.70 3.70M386.90 208.94l3.70 -3.70M387.27 207.24h3.70M389.12 205.39v3.70M387.27 205.39l3.70 3.70M387.27 209.09l3.70 -3.70M387.64 207.39h3.70M389.49 205.54v3.70M387.64 205.54l3.70 3.70M387.64 209.24l3.70 -3.70M388.01 207.53h3.70M389.86 205.68v3.70M388.01 205.68l3.70 3.70M388.01 209.38l3.70 -3.70M388.38 207.67h3.70M390.23 205.82v3.70M388.38 205.82l3.70 3.70M388.38 209.52l3.70 -3.70M388.74 207.81h3.70M390.59 205.96v3.70M388.74 205.96l3.70 3.70M388.74 209.66l3.70 -3.70M389.10 207.94h3.70M390.95 206.09v3.70M389.10 206.09l3.70 3.70M389.10 209.79l3.70 -3.70M389.46 208.08h3.70M391.31 206.23v3.70M389.46 206.23l3.70 3.70M389.46 209.93l3.70 -3.70M389.82 208.21h3.70M391.67 206.36v3.70M389.82 206.36l3.70 3.70M389.82 210.06l3.70 -3.70M390.18 208.34h3.70M392.03 206.49v3.70M390.18 206.49l3.70 3.70M390.18 210.19l3.70 -3.70M390.53 208.47h3.70M392.38 206.62v3.70M390.53 206.62l3.70 3.70M390.53 210.32l3.70 -3.70M390.88 208.59h3.70M392.73 206.74v3.70M390.88 206.74l3.70 3.70M390.88 210.44l3.70 -3.70M391.23 208.72h3.70M393.08 206.87v3.70M391.23 206.87l3.70 3.70M391.23 210.57l3.70 -3.70M391.58 208.84h3.70M393.43 206.99v3.70M391.58 206.99l3.70 3.70M391.58 210.69l3.70 -3.70M391.92 208.96h3.70M393.77 207.11v3.70M391.92 207.11l3.70 3.70M391.92 210.81l3.70 -3.70M392.27 209.08h3.70M394.12 207.23v3.70M392.27 207.23l3.70 3.70M392.27 210.93l3.70 -3.70M392.61 209.20h3.70M394.46 207.35v3.70M392.61 207.35l3.70 3.70M392.61 211.05l3.70 -3.70M392.95 209.31h3.70M394.80 207.46v3.70M392.95 207.46l3.70 3.70M392.95 211.16l3.70 -3.70M393.29 209.42h3.70M395.14 207.57v3.70M393.29 207.57l3.70 3.70M393.29 211.27l3.70 -3.70M393.63 209.54h3.70M395.48 207.69v3.70M393.63 207.69l3.70 3.70M393.63 211.39l3.70 -3.70" stroke="#56B4E9" stroke-width="1.2" fill="none"/>
<path d="M60.50 51.10L104.75 64.20L130.64 62.20L149.00 68.10L163.25 80.60L174.89 85.30L184.73 96.00L193.25 107.20L200.77 113.30L207.50 119.20L213.58 124.30L219.14 128.60L224.25 132.40L228.98 136.00L233.39 139.50L237.51 142.60L241.38 145.40L245.03 148.20L248.48 150.70L251.75 153.20L254.87 155.42L257.84 157.54L260.67 159.57L263.39 161.51L266.00 163.37L268.50 165.15L270.91 166.87L273.23 168.53L275.47 170.13L277.64 171.67L279.73 173.16L281.76 174.61L283.72 176.01L285.63 177.37L287.48 178.69L289.28 179.98L291.03 181.22L292.73 182.44L294.39 183.62L296.00 184.77L297.58 185.90L299.12 187.00L300.62 188.07L302.09 189.12L303.52 190.14L304.93 191.14L306.30 192.12L307.64 193.08L308.96 194.02L310.25 194.94L311.51 195.84L312.75 196.73L313.97 197.59L315.16 198.44L316.33 199.28L317.48 200.10L318.61 200.91L319.72 201.70L320.82 202.48L321.89 203.24L322.94 204.00L323.98 204.74L325.00 205.47L326.01 206.18L327.00 206.89L327.97 207.59L328.93 208.27L329.88 208.94L330.81 209.61L331.73 210.26L332.63 210.91L333.53 211.55L334.41 212.17L335.28 212.80L336.13 213.41L336.98 214.01L337.81 214.60L338.64 215.20L339.45 215.77L340.25 216.35L341.05 216.91L341.83 217.47L342.60 218.03L343.37 218.56L344.12 219.11L344.87 219.64L345.61 220.18L346.34 220.70L347.06 221.22L347.77 221.69L348.48 222.23L349.18 222.70L349.87 223.18L350.55 223.67L351.23 224.19L351.89 224.66L352.56 225.12L353.21 225.57L353.86 226.09L354.50 226.49L355.14 226.93L355.76 227.37L356.39 227.92L357.00 228.23L357.61 228.80L358.22 229.19L358.82 229.57L359.41 229.93L360.00 230.47L360.58 230.75L361.16 231.25L361.74 231.73L362.30 232.14L362.87 232.59L363.42 233.04L363.98 233.42L364.52 233.58L365.07 233.82L365.61 234.61L366.14 235.07L366.67 234.92L367.19 235.55L367.72 236.01L368.23 236.51L368.75 236.60L369.25 236.75L369.76 237.44L370.26 237.84L370.76 238.69L371.25 237.93L371.74 239.56L372.22 239.17L372.71 238.95L373.18 240.58L373.66 239.74L374.13 239.64L374.60 240.56L375.06 240.52L375.52 242.66L375.98 242.02L376.44 243.33L376.89 241.49L377.33 243.55L377.78 243.29L378.22 241.81L378.66 242.48L379.10 242.32L379.53 244.59L379.96 244.74L380.39 243.90L380.81 245.40L381.23 247.01L381.65 246.53L382.07 249.36L382.48 247.43L382.89 244.01L383.30 244.30L383.70 246.37L384.11 247.64L384.51 249.75L384.90 256.77L385.30 251.78L385.69 246.30L386.08 245.88L386.47 251.54L386.86 246.64L387.24 246.82L387.62 247.66L388.00 248.11L388.38 247.21L388.75 255.11L389.12 247.96L389.49 270.95L389.86 252.11L390.23 247.56L390.59 248.63L390.95 260.67L391.31 246.10L391.67 249.60L392.03 251.06L392.38 248.84L392.73 252.24L393.08 254.01L393.43 249.74L393.77 256.57L394.12 247.78L394.46 250.46L394.80 248.11L395.14 257.50L395.48 250.78" stroke="#E69F00" stroke-width="1.15" fill="none" stroke-linejoin="round" clip-path="url(#cp)"/>
<path d="M58.60 49.20h3.80v3.80h-3.80zM102.85 62.30h3.80v3.80h-3.80zM128.74 60.30h3.80v3.80h-3.80zM147.10 66.20h3.80v3.80h-3.80zM161.35 78.70h3.80v3.80h-3.80zM172.99 83.40h3.80v3.80h-3.80zM182.83 94.10h3.80v3.80h-3.80zM191.35 105.30h3.80v3.80h-3.80zM198.87 111.40h3.80v3.80h-3.80zM205.60 117.30h3.80v3.80h-3.80zM211.68 122.40h3.80v3.80h-3.80zM217.24 126.70h3.80v3.80h-3.80zM222.35 130.50h3.80v3.80h-3.80zM227.08 134.10h3.80v3.80h-3.80zM231.49 137.60h3.80v3.80h-3.80zM235.61 140.70h3.80v3.80h-3.80zM239.48 143.50h3.80v3.80h-3.80zM243.13 146.30h3.80v3.80h-3.80zM246.58 148.80h3.80v3.80h-3.80zM249.85 151.30h3.80v3.80h-3.80zM252.97 153.52h3.80v3.80h-3.80zM255.94 155.64h3.80v3.80h-3.80zM258.77 157.67h3.80v3.80h-3.80zM261.49 159.61h3.80v3.80h-3.80zM264.10 161.47h3.80v3.80h-3.80zM266.60 163.25h3.80v3.80h-3.80zM269.01 164.97h3.80v3.80h-3.80zM271.33 166.63h3.80v3.80h-3.80zM273.57 168.23h3.80v3.80h-3.80zM275.74 169.77h3.80v3.80h-3.80zM277.83 171.26h3.80v3.80h-3.80zM279.86 172.71h3.80v3.80h-3.80zM281.82 174.11h3.80v3.80h-3.80zM283.73 175.47h3.80v3.80h-3.80zM285.58 176.79h3.80v3.80h-3.80zM287.38 178.08h3.80v3.80h-3.80zM289.13 179.32h3.80v3.80h-3.80zM290.83 180.54h3.80v3.80h-3.80zM292.49 181.72h3.80v3.80h-3.80zM294.10 182.87h3.80v3.80h-3.80zM295.68 184.00h3.80v3.80h-3.80zM297.22 185.10h3.80v3.80h-3.80zM298.72 186.17h3.80v3.80h-3.80zM300.19 187.22h3.80v3.80h-3.80zM301.62 188.24h3.80v3.80h-3.80zM303.03 189.24h3.80v3.80h-3.80zM304.40 190.22h3.80v3.80h-3.80zM305.74 191.18h3.80v3.80h-3.80zM307.06 192.12h3.80v3.80h-3.80zM308.35 193.04h3.80v3.80h-3.80zM309.61 193.94h3.80v3.80h-3.80zM310.85 194.83h3.80v3.80h-3.80zM312.07 195.69h3.80v3.80h-3.80zM313.26 196.54h3.80v3.80h-3.80zM314.43 197.38h3.80v3.80h-3.80zM315.58 198.20h3.80v3.80h-3.80zM316.71 199.01h3.80v3.80h-3.80zM317.82 199.80h3.80v3.80h-3.80zM318.92 200.58h3.80v3.80h-3.80zM319.99 201.34h3.80v3.80h-3.80zM321.04 202.10h3.80v3.80h-3.80zM322.08 202.84h3.80v3.80h-3.80zM323.10 203.57h3.80v3.80h-3.80zM324.11 204.28h3.80v3.80h-3.80zM325.10 204.99h3.80v3.80h-3.80zM326.07 205.69h3.80v3.80h-3.80zM327.03 206.37h3.80v3.80h-3.80zM327.98 207.04h3.80v3.80h-3.80zM328.91 207.71h3.80v3.80h-3.80zM329.83 208.36h3.80v3.80h-3.80zM330.73 209.01h3.80v3.80h-3.80zM331.63 209.65h3.80v3.80h-3.80zM332.51 210.27h3.80v3.80h-3.80zM333.38 210.90h3.80v3.80h-3.80zM334.23 211.51h3.80v3.80h-3.80zM335.08 212.11h3.80v3.80h-3.80zM335.91 212.70h3.80v3.80h-3.80zM336.74 213.30h3.80v3.80h-3.80zM337.55 213.87h3.80v3.80h-3.80zM338.35 214.45h3.80v3.80h-3.80zM339.15 215.01h3.80v3.80h-3.80zM339.93 215.57h3.80v3.80h-3.80zM340.70 216.13h3.80v3.80h-3.80zM341.47 216.66h3.80v3.80h-3.80zM342.22 217.21h3.80v3.80h-3.80zM342.97 217.74h3.80v3.80h-3.80zM343.71 218.28h3.80v3.80h-3.80zM344.44 218.80h3.80v3.80h-3.80zM345.16 219.32h3.80v3.80h-3.80zM345.87 219.79h3.80v3.80h-3.80zM346.58 220.33h3.80v3.80h-3.80zM347.28 220.80h3.80v3.80h-3.80zM347.97 221.28h3.80v3.80h-3.80zM348.65 221.77h3.80v3.80h-3.80zM349.33 222.29h3.80v3.80h-3.80zM349.99 222.76h3.80v3.80h-3.80zM350.66 223.22h3.80v3.80h-3.80zM351.31 223.67h3.80v3.80h-3.80zM351.96 224.19h3.80v3.80h-3.80zM352.60 224.59h3.80v3.80h-3.80zM353.24 225.03h3.80v3.80h-3.80zM353.86 225.47h3.80v3.80h-3.80zM354.49 226.02h3.80v3.80h-3.80zM355.10 226.33h3.80v3.80h-3.80zM355.71 226.90h3.80v3.80h-3.80zM356.32 227.29h3.80v3.80h-3.80zM356.92 227.67h3.80v3.80h-3.80zM357.51 228.03h3.80v3.80h-3.80zM358.10 228.57h3.80v3.80h-3.80zM358.68 228.85h3.80v3.80h-3.80zM359.26 229.35h3.80v3.80h-3.80zM359.84 229.83h3.80v3.80h-3.80zM360.40 230.24h3.80v3.80h-3.80zM360.97 230.69h3.80v3.80h-3.80zM361.52 231.14h3.80v3.80h-3.80zM362.08 231.52h3.80v3.80h-3.80zM362.62 231.68h3.80v3.80h-3.80zM363.17 231.92h3.80v3.80h-3.80zM363.71 232.71h3.80v3.80h-3.80zM364.24 233.17h3.80v3.80h-3.80zM364.77 233.02h3.80v3.80h-3.80zM365.29 233.65h3.80v3.80h-3.80zM365.82 234.11h3.80v3.80h-3.80zM366.33 234.61h3.80v3.80h-3.80zM366.85 234.70h3.80v3.80h-3.80zM367.35 234.85h3.80v3.80h-3.80zM367.86 235.54h3.80v3.80h-3.80zM368.36 235.94h3.80v3.80h-3.80zM368.86 236.79h3.80v3.80h-3.80zM369.35 236.03h3.80v3.80h-3.80zM369.84 237.66h3.80v3.80h-3.80zM370.32 237.27h3.80v3.80h-3.80zM370.81 237.05h3.80v3.80h-3.80zM371.28 238.68h3.80v3.80h-3.80zM371.76 237.84h3.80v3.80h-3.80zM372.23 237.74h3.80v3.80h-3.80zM372.70 238.66h3.80v3.80h-3.80zM373.16 238.62h3.80v3.80h-3.80zM373.62 240.76h3.80v3.80h-3.80zM374.08 240.12h3.80v3.80h-3.80zM374.54 241.43h3.80v3.80h-3.80zM374.99 239.59h3.80v3.80h-3.80zM375.43 241.65h3.80v3.80h-3.80zM375.88 241.39h3.80v3.80h-3.80zM376.32 239.91h3.80v3.80h-3.80zM376.76 240.58h3.80v3.80h-3.80zM377.20 240.42h3.80v3.80h-3.80zM377.63 242.69h3.80v3.80h-3.80zM378.06 242.84h3.80v3.80h-3.80zM378.49 242.00h3.80v3.80h-3.80zM378.91 243.50h3.80v3.80h-3.80zM379.33 245.11h3.80v3.80h-3.80zM379.75 244.63h3.80v3.80h-3.80zM380.17 247.46h3.80v3.80h-3.80zM380.58 245.53h3.80v3.80h-3.80zM380.99 242.11h3.80v3.80h-3.80zM381.40 242.40h3.80v3.80h-3.80zM381.80 244.47h3.80v3.80h-3.80zM382.21 245.74h3.80v3.80h-3.80zM382.61 247.85h3.80v3.80h-3.80zM383.00 254.87h3.80v3.80h-3.80zM383.40 249.88h3.80v3.80h-3.80zM383.79 244.40h3.80v3.80h-3.80zM384.18 243.98h3.80v3.80h-3.80zM384.57 249.64h3.80v3.80h-3.80zM384.96 244.74h3.80v3.80h-3.80zM385.34 244.92h3.80v3.80h-3.80zM385.72 245.76h3.80v3.80h-3.80zM386.10 246.21h3.80v3.80h-3.80zM386.48 245.31h3.80v3.80h-3.80zM386.85 253.21h3.80v3.80h-3.80zM387.22 246.06h3.80v3.80h-3.80zM387.96 250.21h3.80v3.80h-3.80zM388.33 245.66h3.80v3.80h-3.80zM388.69 246.73h3.80v3.80h-3.80zM389.41 244.20h3.80v3.80h-3.80zM389.77 247.70h3.80v3.80h-3.80zM390.13 249.16h3.80v3.80h-3.80zM390.48 246.94h3.80v3.80h-3.80zM390.83 250.34h3.80v3.80h-3.80zM391.18 252.11h3.80v3.80h-3.80zM391.53 247.84h3.80v3.80h-3.80zM391.87 254.67h3.80v3.80h-3.80zM392.22 245.88h3.80v3.80h-3.80zM392.56 248.56h3.80v3.80h-3.80zM392.90 246.21h3.80v3.80h-3.80zM393.24 255.60h3.80v3.80h-3.80zM393.58 248.88h3.80v3.80h-3.80z" stroke="#E69F00" stroke-width="1.15" fill="none"/>
<path d="M60.50 50.80L104.75 56.35L130.64 68.30L149.00 72.60L163.25 78.60L174.89 92.80L184.73 100.90L193.25 123.30L200.77 122.85L207.50 131.80L213.58 137.10L219.14 142.60L224.25 147.70L228.98 152.30L233.39 156.80L237.51 160.50L241.38 164.00L245.03 167.18L248.48 170.21L251.75 173.08L254.87 175.81L257.84 178.41L260.67 180.90L263.39 183.29L266.00 185.57L268.50 187.77L270.91 189.88L273.23 191.92L275.47 193.88L277.64 195.78L279.73 197.62L281.76 199.39L283.72 201.12L285.63 202.79L287.48 204.41L289.28 205.99L291.03 207.52L292.73 209.02L294.39 210.47L296.00 211.88L297.58 213.27L299.12 214.63L300.62 215.94L302.09 217.21L303.52 218.50L304.93 219.71L306.30 220.92L307.64 222.08L308.96 223.27L310.25 224.36L311.51 225.49L312.75 226.55L313.97 227.55L315.16 228.67L316.33 229.85L317.48 230.92L318.61 231.48L319.72 232.70L320.82 233.89L321.89 234.18L322.94 235.43L323.98 236.12L325.00 236.74L326.01 238.63L327.00 239.41L327.97 238.99L328.93 242.09L329.88 240.69L330.81 244.61L331.73 242.32L332.63 242.91L333.53 242.32L334.41 243.32L335.28 246.30L336.13 252.62L336.98 259.04L337.81 248.14L338.64 249.11L339.45 251.98L340.25 245.46L341.05 251.20L341.83 248.11L342.60 253.34L343.37 253.56L344.12 248.07L344.87 257.61L345.61 252.86L346.34 278.21L347.06 257.81L347.77 247.80L348.48 247.19L349.18 249.58L349.87 257.19L350.55 249.25L351.23 251.33L351.89 246.55L352.56 249.69L353.21 249.36L353.86 251.80L354.50 246.94L355.14 249.51L355.76 252.93L356.39 248.92L357.00 258.04L357.61 249.96L358.22 255.88L358.82 258.78L359.41 256.27L360.00 254.96L360.58 251.12L361.16 247.74L361.74 247.61L362.30 247.88L362.87 261.69L363.42 253.20L363.98 249.00L364.52 267.38L365.07 250.96L365.61 246.78L366.14 247.31L366.67 246.80L367.19 248.30L367.72 254.18L368.23 256.11L368.75 249.98L369.25 252.41L369.76 246.43L370.26 245.96L370.76 247.78L371.25 248.40L371.74 246.92L372.22 245.75L372.71 245.75L373.18 248.69L373.66 245.47L374.13 254.61L374.60 247.59L375.06 245.67L375.52 256.24L375.98 246.27L376.44 253.20L376.89 272.17L377.33 260.18L377.78 247.19L378.22 246.73L378.66 254.52L379.10 257.25L379.53 246.77L379.96 255.99L380.39 249.31L380.81 249.53L381.23 259.76L381.65 253.11L382.07 251.73L382.48 248.29L382.89 247.79L383.30 256.53L383.70 246.47L384.11 249.26L384.51 249.65L384.90 252.81L385.30 245.45L385.69 251.80L386.08 255.31L386.47 246.09L386.86 245.25L387.24 248.18L387.62 271.23L388.00 249.04L388.38 247.01L388.75 247.39L389.12 259.20L389.49 247.80L389.86 250.34L390.23 244.20L390.59 251.63L390.95 245.11L391.31 247.71L391.67 244.84L392.03 244.22L392.38 247.01L392.73 248.53L393.08 255.90L393.43 244.19L393.77 250.72L394.12 244.54L394.46 245.69L394.80 261.20L395.14 250.86L395.48 244.28" stroke="#F0E442" stroke-width="1.35" fill="none" stroke-linejoin="round" clip-path="url(#cp)"/>
<path d="M338 249L345 249.3L370 249L386 248.2L396.8 247.5V256.6H338z" fill="#F0E442"/>
<path d="M58.35 48.65h4.30v4.30h-4.30zM102.60 54.20h4.30v4.30h-4.30zM128.49 66.15h4.30v4.30h-4.30zM146.85 70.45h4.30v4.30h-4.30zM161.10 76.45h4.30v4.30h-4.30zM172.74 90.65h4.30v4.30h-4.30zM182.58 98.75h4.30v4.30h-4.30zM191.10 121.15h4.30v4.30h-4.30zM198.62 120.70h4.30v4.30h-4.30zM205.35 129.65h4.30v4.30h-4.30zM211.43 134.95h4.30v4.30h-4.30zM216.99 140.45h4.30v4.30h-4.30zM222.10 145.55h4.30v4.30h-4.30zM226.83 150.15h4.30v4.30h-4.30zM231.24 154.65h4.30v4.30h-4.30zM235.36 158.35h4.30v4.30h-4.30zM239.23 161.85h4.30v4.30h-4.30zM242.88 165.03h4.30v4.30h-4.30zM246.33 168.06h4.30v4.30h-4.30zM249.60 170.93h4.30v4.30h-4.30zM252.72 173.66h4.30v4.30h-4.30zM255.69 176.26h4.30v4.30h-4.30zM258.52 178.75h4.30v4.30h-4.30zM261.24 181.14h4.30v4.30h-4.30zM263.85 183.42h4.30v4.30h-4.30zM266.35 185.62h4.30v4.30h-4.30zM268.76 187.73h4.30v4.30h-4.30zM271.08 189.77h4.30v4.30h-4.30zM273.32 191.73h4.30v4.30h-4.30zM275.49 193.63h4.30v4.30h-4.30zM277.58 195.47h4.30v4.30h-4.30zM279.61 197.24h4.30v4.30h-4.30zM281.57 198.97h4.30v4.30h-4.30zM283.48 200.64h4.30v4.30h-4.30zM285.33 202.26h4.30v4.30h-4.30zM287.13 203.84h4.30v4.30h-4.30zM288.88 205.37h4.30v4.30h-4.30zM290.58 206.87h4.30v4.30h-4.30zM292.24 208.32h4.30v4.30h-4.30zM293.85 209.73h4.30v4.30h-4.30zM295.43 211.12h4.30v4.30h-4.30zM296.97 212.48h4.30v4.30h-4.30zM298.47 213.79h4.30v4.30h-4.30zM299.94 215.06h4.30v4.30h-4.30zM301.37 216.35h4.30v4.30h-4.30zM302.78 217.56h4.30v4.30h-4.30zM304.15 218.77h4.30v4.30h-4.30zM305.49 219.93h4.30v4.30h-4.30zM306.81 221.12h4.30v4.30h-4.30zM308.10 222.21h4.30v4.30h-4.30zM309.36 223.34h4.30v4.30h-4.30zM310.60 224.40h4.30v4.30h-4.30zM311.82 225.40h4.30v4.30h-4.30zM313.01 226.52h4.30v4.30h-4.30zM314.18 227.70h4.30v4.30h-4.30zM315.33 228.77h4.30v4.30h-4.30zM316.46 229.33h4.30v4.30h-4.30zM317.57 230.55h4.30v4.30h-4.30zM318.67 231.74h4.30v4.30h-4.30zM319.74 232.03h4.30v4.30h-4.30zM320.79 233.28h4.30v4.30h-4.30zM321.83 233.97h4.30v4.30h-4.30zM322.85 234.59h4.30v4.30h-4.30zM323.86 236.48h4.30v4.30h-4.30zM324.85 237.26h4.30v4.30h-4.30zM325.82 236.84h4.30v4.30h-4.30zM326.78 239.94h4.30v4.30h-4.30zM327.73 238.54h4.30v4.30h-4.30zM328.66 242.46h4.30v4.30h-4.30zM329.58 240.17h4.30v4.30h-4.30zM330.48 240.76h4.30v4.30h-4.30zM331.38 240.17h4.30v4.30h-4.30zM332.26 241.17h4.30v4.30h-4.30zM333.13 244.15h4.30v4.30h-4.30zM333.98 250.47h4.30v4.30h-4.30zM335.66 245.99h4.30v4.30h-4.30zM336.49 246.96h4.30v4.30h-4.30zM337.30 249.83h4.30v4.30h-4.30zM338.10 243.31h4.30v4.30h-4.30zM338.90 249.05h4.30v4.30h-4.30zM339.68 245.96h4.30v4.30h-4.30zM340.45 251.19h4.30v4.30h-4.30zM341.22 251.41h4.30v4.30h-4.30zM341.97 245.92h4.30v4.30h-4.30zM342.72 255.46h4.30v4.30h-4.30zM343.46 250.71h4.30v4.30h-4.30zM344.91 255.66h4.30v4.30h-4.30zM345.62 245.65h4.30v4.30h-4.30zM346.33 245.04h4.30v4.30h-4.30zM347.03 247.43h4.30v4.30h-4.30zM347.72 255.04h4.30v4.30h-4.30zM348.40 247.10h4.30v4.30h-4.30zM349.08 249.18h4.30v4.30h-4.30zM349.74 244.40h4.30v4.30h-4.30zM350.41 247.54h4.30v4.30h-4.30zM351.06 247.21h4.30v4.30h-4.30zM351.71 249.65h4.30v4.30h-4.30zM352.35 244.79h4.30v4.30h-4.30zM352.99 247.36h4.30v4.30h-4.30zM353.61 250.78h4.30v4.30h-4.30zM354.24 246.77h4.30v4.30h-4.30zM354.85 255.89h4.30v4.30h-4.30zM355.46 247.81h4.30v4.30h-4.30zM356.07 253.73h4.30v4.30h-4.30zM357.26 254.12h4.30v4.30h-4.30zM357.85 252.81h4.30v4.30h-4.30zM358.43 248.97h4.30v4.30h-4.30zM359.01 245.59h4.30v4.30h-4.30zM359.59 245.46h4.30v4.30h-4.30zM360.15 245.73h4.30v4.30h-4.30zM361.27 251.05h4.30v4.30h-4.30zM361.83 246.85h4.30v4.30h-4.30zM362.92 248.81h4.30v4.30h-4.30zM363.46 244.63h4.30v4.30h-4.30zM363.99 245.16h4.30v4.30h-4.30zM364.52 244.65h4.30v4.30h-4.30zM365.04 246.15h4.30v4.30h-4.30zM365.57 252.03h4.30v4.30h-4.30zM366.08 253.96h4.30v4.30h-4.30zM366.60 247.83h4.30v4.30h-4.30zM367.10 250.26h4.30v4.30h-4.30zM367.61 244.28h4.30v4.30h-4.30zM368.11 243.81h4.30v4.30h-4.30zM368.61 245.63h4.30v4.30h-4.30zM369.10 246.25h4.30v4.30h-4.30zM369.59 244.77h4.30v4.30h-4.30zM370.07 243.60h4.30v4.30h-4.30zM370.56 243.60h4.30v4.30h-4.30zM371.03 246.54h4.30v4.30h-4.30zM371.51 243.32h4.30v4.30h-4.30zM371.98 252.46h4.30v4.30h-4.30zM372.45 245.44h4.30v4.30h-4.30zM372.91 243.52h4.30v4.30h-4.30zM373.37 254.09h4.30v4.30h-4.30zM373.83 244.12h4.30v4.30h-4.30zM374.29 251.05h4.30v4.30h-4.30zM375.63 245.04h4.30v4.30h-4.30zM376.07 244.58h4.30v4.30h-4.30zM376.51 252.37h4.30v4.30h-4.30zM376.95 255.10h4.30v4.30h-4.30zM377.38 244.62h4.30v4.30h-4.30zM377.81 253.84h4.30v4.30h-4.30zM378.24 247.16h4.30v4.30h-4.30zM378.66 247.38h4.30v4.30h-4.30zM379.50 250.96h4.30v4.30h-4.30zM379.92 249.58h4.30v4.30h-4.30zM380.33 246.14h4.30v4.30h-4.30zM380.74 245.64h4.30v4.30h-4.30zM381.15 254.38h4.30v4.30h-4.30zM381.55 244.32h4.30v4.30h-4.30zM381.96 247.11h4.30v4.30h-4.30zM382.36 247.50h4.30v4.30h-4.30zM382.75 250.66h4.30v4.30h-4.30zM383.15 243.30h4.30v4.30h-4.30zM383.54 249.65h4.30v4.30h-4.30zM383.93 253.16h4.30v4.30h-4.30zM384.32 243.94h4.30v4.30h-4.30zM384.71 243.10h4.30v4.30h-4.30zM385.09 246.03h4.30v4.30h-4.30zM385.85 246.89h4.30v4.30h-4.30zM386.23 244.86h4.30v4.30h-4.30zM386.60 245.24h4.30v4.30h-4.30zM387.34 245.65h4.30v4.30h-4.30zM387.71 248.19h4.30v4.30h-4.30zM388.08 242.05h4.30v4.30h-4.30zM388.44 249.48h4.30v4.30h-4.30zM388.80 242.96h4.30v4.30h-4.30zM389.16 245.56h4.30v4.30h-4.30zM389.52 242.69h4.30v4.30h-4.30zM389.88 242.07h4.30v4.30h-4.30zM390.23 244.86h4.30v4.30h-4.30zM390.58 246.38h4.30v4.30h-4.30zM390.93 253.75h4.30v4.30h-4.30zM391.28 242.04h4.30v4.30h-4.30zM391.62 248.57h4.30v4.30h-4.30zM391.97 242.39h4.30v4.30h-4.30zM392.31 243.54h4.30v4.30h-4.30zM392.99 248.71h4.30v4.30h-4.30zM393.33 242.13h4.30v4.30h-4.30z" fill="#F0E442" stroke="none"/>
<path d="M178.4 199.3H196.9" stroke="#9400D3" stroke-width="1.15"/>
<path d="M185.60 199.30h4.60M187.90 197.00v4.60" stroke="#9400D3" stroke-width="1.0" fill="none"/>
<path d="M178.4 211.4H196.9" stroke="#009E73" stroke-width="1.15"/>
<path d="M186.00 209.50l3.80 3.80M186.00 213.30l3.80 -3.80" stroke="#009E73" stroke-width="1.0" fill="none"/>
<path d="M178.4 223.75H196.9" stroke="#56B4E9" stroke-width="1.15"/>
<path d="M186.05 223.75h3.70M187.90 221.90v3.70M186.05 221.90l3.70 3.70M186.05 225.60l3.70 -3.70" stroke="#56B4E9" stroke-width="1.0" fill="none"/>
<path d="M178.4 235.9H196.9" stroke="#E69F00" stroke-width="1.15"/>
<path d="M186.00 234.00h3.80v3.80h-3.80z" stroke="#E69F00" stroke-width="1.0" fill="none"/>
<path d="M178.4 248.0H196.9" stroke="#F0E442" stroke-width="1.15"/>
<path d="M185.75 245.85h4.30v4.30h-4.30z" fill="#F0E442"/>
<g style="font-family:&quot;Liberation Serif&quot;,serif" fill="#303030">
<text x="36.3" y="52.00" font-size="12" text-anchor="start">10</text>
<text x="48.4" y="47.80" font-size="9.0" text-anchor="start">0</text>
<text x="27.90" y="110.17" font-size="12" text-anchor="start">10</text>
<path d="M41.30 103.84h6.0" stroke="#303030" stroke-width="0.6" fill="none"/>
<text x="48.10" y="105.97" font-size="9.0" text-anchor="start">5</text>
<text x="23.40" y="167.54" font-size="12" text-anchor="start">10</text>
<path d="M36.80 161.21h6.0" stroke="#303030" stroke-width="0.6" fill="none"/>
<text x="43.60" y="163.34" font-size="9.0" text-anchor="start">10</text>
<text x="23.40" y="225.71" font-size="12" text-anchor="start">10</text>
<path d="M36.80 219.38h6.0" stroke="#303030" stroke-width="0.6" fill="none"/>
<text x="43.60" y="221.51" font-size="9.0" text-anchor="start">15</text>
<text x="61" y="272.6" font-size="12" text-anchor="middle">1</text>
<text x="207.9" y="272.6" font-size="12" text-anchor="middle">10</text>
<text x="354.5" y="272.6" font-size="12" text-anchor="middle">100</text>
<text x="226.2" y="290.3" font-size="12" font-style="italic" text-anchor="start">j</text>
<text x="0.6" y="145.5" font-size="12" font-style="italic" text-anchor="start">c</text>
<text x="5.2" y="147.3" font-size="9" font-style="italic" textLength="5.6" lengthAdjust="spacingAndGlyphs">n</text>
<text x="11.2" y="147.3" font-size="9.0" text-anchor="start">,</text>
<text x="15.3" y="147.3" font-size="9.5" font-style="italic" text-anchor="start">j</text>
<text x="311.0" y="63.6" font-size="12" font-style="italic" text-anchor="start">K</text>
<path d="M325.1 59.20h9.0M325.1 62.10h9.0" stroke="#303030" stroke-width="0.6" fill="none"/>
<text x="338.0" y="63.6" font-size="12" text-anchor="start">7</text>
<text x="344.6" y="63.6" font-size="12" text-anchor="start">.</text>
<text x="347.4" y="63.6" font-size="12" text-anchor="start">50000</text>
<text x="159.6" y="10.0" font-size="12.5" font-style="italic" textLength="7.4" lengthAdjust="spacingAndGlyphs">α</text><path d="M161.0 2.0h3.6" stroke="#303030" stroke-width="0.8"/>
<path d="M169.90 1.90L170.40 3.31L171.90 3.35L170.71 4.26L171.13 5.70L169.90 4.85L168.67 5.70L169.09 4.26L167.90 3.35L169.40 3.31z" fill="#303030"/>
<text x="167.7" y="13.3" font-size="8.6" text-anchor="start">0</text>
<path d="M176.6 5.90h9.0M176.6 8.80h9.0" stroke="#303030" stroke-width="0.6" fill="none"/>
<path d="M190.6 7.51h8.0" stroke="#303030" stroke-width="0.6" fill="none"/>
<text x="199.4" y="10.0" font-size="12.5" font-style="italic" textLength="7.4" lengthAdjust="spacingAndGlyphs">α</text><path d="M200.8 2.0h3.6" stroke="#303030" stroke-width="0.8"/>
<path d="M209.60 1.90L210.10 3.31L211.60 3.35L210.41 4.26L210.83 5.70L209.60 4.85L208.37 5.70L208.79 4.26L207.60 3.35L209.10 3.31z" fill="#303030"/>
<text x="207.5" y="13.3" font-size="8.6" text-anchor="start">4</text>
<text x="213.4" y="10.0" font-size="12" text-anchor="start">/</text>
<text x="218.6" y="10.0" font-size="12" text-anchor="start">2</text>
<path d="M228.6 5.90h8.8M228.6 8.80h8.8" stroke="#303030" stroke-width="0.6" fill="none"/>
<text x="240.6" y="10.0" font-size="12" text-anchor="start">1</text>
<text x="259.7" y="10.0" font-size="12" text-anchor="start">(</text>
<text x="263.9" y="10.0" font-size="12" font-style="italic" text-anchor="start">ℓ</text>
<path d="M272.9 5.90h9.2M272.9 8.80h9.2" stroke="#303030" stroke-width="0.6" fill="none"/>
<text x="285.8" y="10.0" font-size="12" text-anchor="start">3</text>
<text x="291.8" y="10.0" font-size="12" text-anchor="start">)</text>
<text x="88.2" y="201.7" font-size="12" font-style="italic" text-anchor="start">n</text>
<path d="M99.0 197.30h8.8M99.0 200.20h8.8" stroke="#303030" stroke-width="0.6" fill="none"/>
<text x="111.6" y="201.7" font-size="12" text-anchor="start">0</text>
<text x="130.6" y="201.7" font-size="12" text-anchor="start">(</text>
<path d="M134.8 199.80C135.86 197.30 137.79 197.30 139.20 199.00S142.54 200.70 143.60 198.20" stroke="#303030" stroke-width="0.95" fill="none"/>
<text x="148.0" y="201.7" font-size="12" font-style="italic" text-anchor="start">j</text>
<path d="M154.3 195.57h5.4" stroke="#303030" stroke-width="0.6" fill="none"/>
<text x="160.3" y="197.79999999999998" font-size="9.0" text-anchor="start">5</text>
<text x="166.6" y="201.7" font-size="12" text-anchor="start">)</text>
<text x="88.2" y="213.9" font-size="12" font-style="italic" text-anchor="start">n</text>
<path d="M99.0 209.50h8.8M99.0 212.40h8.8" stroke="#303030" stroke-width="0.6" fill="none"/>
<text x="111.6" y="213.9" font-size="12" text-anchor="start">1</text>
<text x="130.6" y="213.9" font-size="12" text-anchor="start">(</text>
<path d="M134.8 212.00C135.86 209.50 137.79 209.50 139.20 211.20S142.54 212.90 143.60 210.40" stroke="#303030" stroke-width="0.95" fill="none"/>
<text x="148.0" y="213.9" font-size="12" font-style="italic" text-anchor="start">j</text>
<path d="M154.3 207.77h5.4" stroke="#303030" stroke-width="0.6" fill="none"/>
<text x="160.3" y="210.0" font-size="9.0" text-anchor="start">5</text>
<text x="166.6" y="213.9" font-size="12" text-anchor="start">)</text>
<text x="88.2" y="226.1" font-size="12" font-style="italic" text-anchor="start">n</text>
<path d="M99.0 221.70h8.8M99.0 224.60h8.8" stroke="#303030" stroke-width="0.6" fill="none"/>
<text x="111.6" y="226.1" font-size="12" text-anchor="start">2</text>
<text x="130.6" y="226.1" font-size="12" text-anchor="start">(</text>
<path d="M134.8 224.20C135.86 221.70 137.79 221.70 139.20 223.40S142.54 225.10 143.60 222.60" stroke="#303030" stroke-width="0.95" fill="none"/>
<text x="148.0" y="226.1" font-size="12" font-style="italic" text-anchor="start">j</text>
<path d="M154.3 219.97h5.4" stroke="#303030" stroke-width="0.6" fill="none"/>
<text x="160.3" y="222.2" font-size="9.0" text-anchor="start">7</text>
<text x="166.6" y="226.1" font-size="12" text-anchor="start">)</text>
<text x="88.2" y="238.3" font-size="12" font-style="italic" text-anchor="start">n</text>
<path d="M99.0 233.90h8.8M99.0 236.80h8.8" stroke="#303030" stroke-width="0.6" fill="none"/>
<text x="111.6" y="238.3" font-size="12" text-anchor="start">3</text>
<text x="130.6" y="238.3" font-size="12" text-anchor="start">(</text>
<path d="M134.8 236.40C135.86 233.90 137.79 233.90 139.20 235.60S142.54 237.30 143.60 234.80" stroke="#303030" stroke-width="0.95" fill="none"/>
<text x="148.0" y="238.3" font-size="12" font-style="italic" text-anchor="start">j</text>
<path d="M154.3 232.17h5.4" stroke="#303030" stroke-width="0.6" fill="none"/>
<text x="160.3" y="234.4" font-size="9.0" text-anchor="start">9</text>
<text x="166.6" y="238.3" font-size="12" text-anchor="start">)</text>
<text x="84.10000000000001" y="250.6" font-size="12" font-style="italic" text-anchor="start">n</text>
<path d="M94.9 246.20h8.8M94.9 249.10h8.8" stroke="#303030" stroke-width="0.6" fill="none"/>
<text x="107.5" y="250.6" font-size="12" text-anchor="start">4</text>
<text x="126.5" y="250.6" font-size="12" text-anchor="start">(</text>
<path d="M130.70000000000002 248.70C131.76 246.20 133.69 246.20 135.10 247.90S138.44 249.60 139.50 247.10" stroke="#303030" stroke-width="0.95" fill="none"/>
<text x="143.9" y="250.6" font-size="12" font-style="italic" text-anchor="start">j</text>
<path d="M150.20000000000002 244.47h5.4" stroke="#303030" stroke-width="0.6" fill="none"/>
<text x="156.20000000000002" y="246.7" font-size="9.0" text-anchor="start">11</text>
<text x="166.6" y="250.6" font-size="12" text-anchor="start">)</text>
</g>
</svg>
</body></html>
